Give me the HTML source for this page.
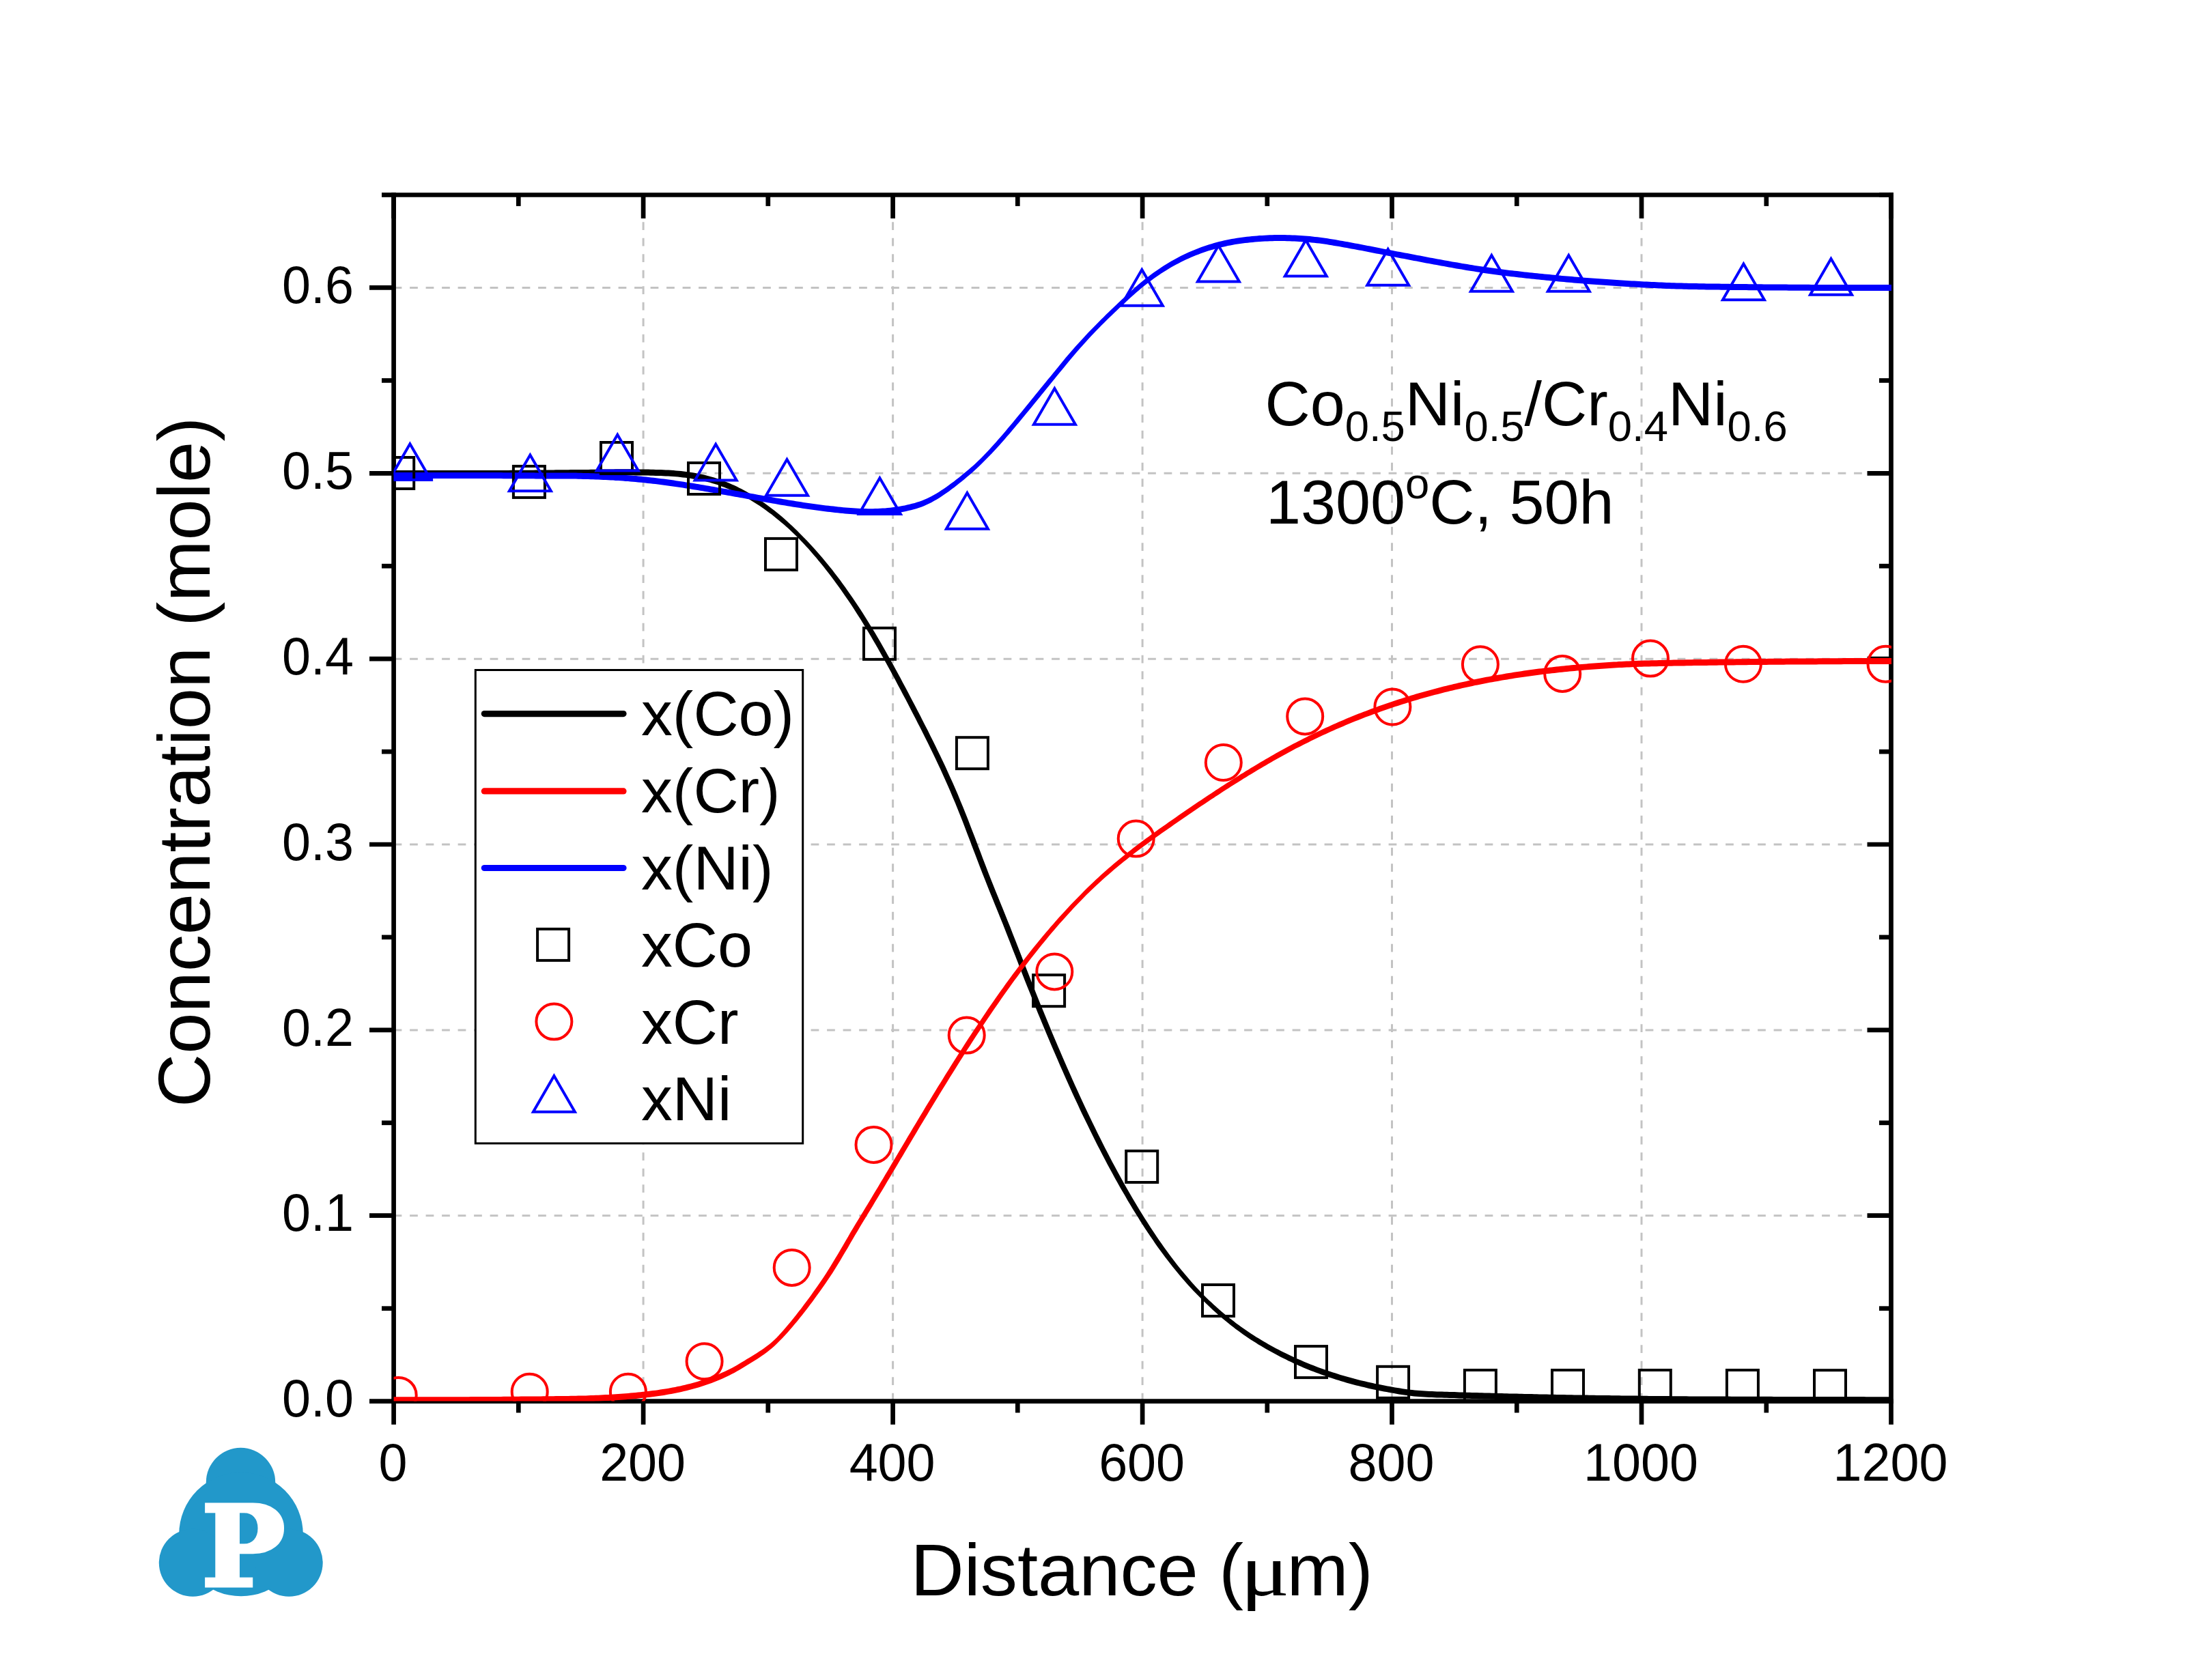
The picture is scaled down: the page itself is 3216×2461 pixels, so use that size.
<!DOCTYPE html><html><head><meta charset="utf-8"><title>Co0.5Ni0.5/Cr0.4Ni0.6 diffusion couple</title>
<style>html,body{margin:0;padding:0;background:#fff}svg{display:block}</style></head><body>
<svg width="3216" height="2461" viewBox="0 0 3216 2461">
<rect width="3216" height="2461" fill="#fff"/>
<defs><clipPath id="pc"><rect x="576.6" y="285.5" width="2193.4" height="1767.1"/></clipPath></defs>
<g stroke="#c3c3c3" stroke-width="3" stroke-dasharray="11.75 11.75" fill="none">
<line x1="576.6" y1="1780.7" x2="2769.5" y2="1780.7"/>
<line x1="576.6" y1="1508.9" x2="2769.5" y2="1508.9"/>
<line x1="576.6" y1="1237.0" x2="2769.5" y2="1237.0"/>
<line x1="576.6" y1="965.2" x2="2769.5" y2="965.2"/>
<line x1="576.6" y1="693.3" x2="2769.5" y2="693.3"/>
<line x1="576.6" y1="421.4" x2="2769.5" y2="421.4"/>
<line x1="942.1" y1="2052.6" x2="942.1" y2="285.5"/>
<line x1="1307.6" y1="2052.6" x2="1307.6" y2="285.5"/>
<line x1="1673.1" y1="2052.6" x2="1673.1" y2="285.5"/>
<line x1="2038.5" y1="2052.6" x2="2038.5" y2="285.5"/>
<line x1="2404.0" y1="2052.6" x2="2404.0" y2="285.5"/>
</g>
<g stroke="#000" stroke-width="6.7" fill="none">
<line x1="576.6" y1="282.1" x2="576.6" y2="2055.9"/>
<line x1="2769.5" y1="282.1" x2="2769.5" y2="2055.9"/>
<line x1="573.2" y1="285.5" x2="2772.8" y2="285.5"/>
<line x1="573.2" y1="2052.6" x2="2772.8" y2="2052.6"/>
<line x1="541.0" y1="2052.6" x2="576.6" y2="2052.6"/>
<line x1="2734.5" y1="2052.6" x2="2769.5" y2="2052.6"/>
<line x1="559.0" y1="1916.7" x2="576.6" y2="1916.7"/>
<line x1="2752.0" y1="1916.7" x2="2769.5" y2="1916.7"/>
<line x1="541.0" y1="1780.7" x2="576.6" y2="1780.7"/>
<line x1="2734.5" y1="1780.7" x2="2769.5" y2="1780.7"/>
<line x1="559.0" y1="1644.8" x2="576.6" y2="1644.8"/>
<line x1="2752.0" y1="1644.8" x2="2769.5" y2="1644.8"/>
<line x1="541.0" y1="1508.9" x2="576.6" y2="1508.9"/>
<line x1="2734.5" y1="1508.9" x2="2769.5" y2="1508.9"/>
<line x1="559.0" y1="1372.9" x2="576.6" y2="1372.9"/>
<line x1="2752.0" y1="1372.9" x2="2769.5" y2="1372.9"/>
<line x1="541.0" y1="1237.0" x2="576.6" y2="1237.0"/>
<line x1="2734.5" y1="1237.0" x2="2769.5" y2="1237.0"/>
<line x1="559.0" y1="1101.1" x2="576.6" y2="1101.1"/>
<line x1="2752.0" y1="1101.1" x2="2769.5" y2="1101.1"/>
<line x1="541.0" y1="965.2" x2="576.6" y2="965.2"/>
<line x1="2734.5" y1="965.2" x2="2769.5" y2="965.2"/>
<line x1="559.0" y1="829.2" x2="576.6" y2="829.2"/>
<line x1="2752.0" y1="829.2" x2="2769.5" y2="829.2"/>
<line x1="541.0" y1="693.3" x2="576.6" y2="693.3"/>
<line x1="2734.5" y1="693.3" x2="2769.5" y2="693.3"/>
<line x1="559.0" y1="557.4" x2="576.6" y2="557.4"/>
<line x1="2752.0" y1="557.4" x2="2769.5" y2="557.4"/>
<line x1="541.0" y1="421.4" x2="576.6" y2="421.4"/>
<line x1="2734.5" y1="421.4" x2="2769.5" y2="421.4"/>
<line x1="559.0" y1="285.5" x2="576.6" y2="285.5"/>
<line x1="2752.0" y1="285.5" x2="2769.5" y2="285.5"/>
<line x1="576.6" y1="2052.6" x2="576.6" y2="2086.8"/>
<line x1="576.6" y1="285.5" x2="576.6" y2="320.0"/>
<line x1="759.3" y1="2052.6" x2="759.3" y2="2069.5"/>
<line x1="759.3" y1="285.5" x2="759.3" y2="301.9"/>
<line x1="942.1" y1="2052.6" x2="942.1" y2="2086.8"/>
<line x1="942.1" y1="285.5" x2="942.1" y2="320.0"/>
<line x1="1124.8" y1="2052.6" x2="1124.8" y2="2069.5"/>
<line x1="1124.8" y1="285.5" x2="1124.8" y2="301.9"/>
<line x1="1307.6" y1="2052.6" x2="1307.6" y2="2086.8"/>
<line x1="1307.6" y1="285.5" x2="1307.6" y2="320.0"/>
<line x1="1490.3" y1="2052.6" x2="1490.3" y2="2069.5"/>
<line x1="1490.3" y1="285.5" x2="1490.3" y2="301.9"/>
<line x1="1673.1" y1="2052.6" x2="1673.1" y2="2086.8"/>
<line x1="1673.1" y1="285.5" x2="1673.1" y2="320.0"/>
<line x1="1855.8" y1="2052.6" x2="1855.8" y2="2069.5"/>
<line x1="1855.8" y1="285.5" x2="1855.8" y2="301.9"/>
<line x1="2038.5" y1="2052.6" x2="2038.5" y2="2086.8"/>
<line x1="2038.5" y1="285.5" x2="2038.5" y2="320.0"/>
<line x1="2221.3" y1="2052.6" x2="2221.3" y2="2069.5"/>
<line x1="2221.3" y1="285.5" x2="2221.3" y2="301.9"/>
<line x1="2404.0" y1="2052.6" x2="2404.0" y2="2086.8"/>
<line x1="2404.0" y1="285.5" x2="2404.0" y2="320.0"/>
<line x1="2586.8" y1="2052.6" x2="2586.8" y2="2069.5"/>
<line x1="2586.8" y1="285.5" x2="2586.8" y2="301.9"/>
<line x1="2769.5" y1="2052.6" x2="2769.5" y2="2086.8"/>
<line x1="2769.5" y1="285.5" x2="2769.5" y2="320.0"/>
</g>
<g font-family="Liberation Sans, Arial, sans-serif" font-size="75.5" fill="#000">
<text transform="translate(518.0 2075.3) scale(1 1.030)" text-anchor="end">0.0</text>
<text transform="translate(518.0 1803.4) scale(1 1.030)" text-anchor="end">0.1</text>
<text transform="translate(518.0 1531.6) scale(1 1.030)" text-anchor="end">0.2</text>
<text transform="translate(518.0 1259.7) scale(1 1.030)" text-anchor="end">0.3</text>
<text transform="translate(518.0 987.9) scale(1 1.030)" text-anchor="end">0.4</text>
<text transform="translate(518.0 716.0) scale(1 1.030)" text-anchor="end">0.5</text>
<text transform="translate(518.0 444.1) scale(1 1.030)" text-anchor="end">0.6</text>
<text transform="translate(575.6 2169.2) scale(1 1.030)" text-anchor="middle">0</text>
<text transform="translate(941.1 2169.2) scale(1 1.030)" text-anchor="middle">200</text>
<text transform="translate(1306.6 2169.2) scale(1 1.030)" text-anchor="middle">400</text>
<text transform="translate(1672.1 2169.2) scale(1 1.030)" text-anchor="middle">600</text>
<text transform="translate(2037.5 2169.2) scale(1 1.030)" text-anchor="middle">800</text>
<text transform="translate(2403.0 2169.2) scale(1 1.030)" text-anchor="middle">1000</text>
<text transform="translate(2768.5 2169.2) scale(1 1.030)" text-anchor="middle">1200</text>
</g>
<text font-family="Liberation Sans, Arial, sans-serif" font-size="108.3" x="1333.5" y="2336.9">Distance (</text>
<text font-family="Liberation Serif, DejaVu Serif, serif" font-size="108.3" transform="translate(1816.6 2336.9) scale(1.240 1)">μ</text>
<text font-family="Liberation Sans, Arial, sans-serif" font-size="108.3" x="1884.5" y="2336.9">m)</text>
<text font-family="Liberation Sans, Arial, sans-serif" font-size="108.3" text-anchor="middle" transform="translate(306.7 1116.4) rotate(-90)">Concentration (mole)</text>
<g clip-path="url(#pc)" stroke="none">
<path fill="#000" d="M570.6 698.1L576.6 698.1L580.3 698.1L583.9 698.1L587.6 698.1L591.2 698.1L594.9 698.1L598.5 698.1L602.2 698.1L605.8 698.1L609.5 698.1L613.1 698.1L616.8 698.1L620.5 698.1L624.1 698.1L627.8 698.1L631.4 698.1L635.1 698.1L638.7 698.1L642.4 698.1L646.0 698.1L649.7 698.1L653.4 698.1L657.0 698.1L660.7 698.1L664.3 698.1L668.0 698.1L671.6 698.1L675.3 698.1L678.9 698.1L682.6 698.1L686.3 698.0L689.9 698.0L693.6 698.0L697.2 698.0L700.9 698.0L704.5 698.0L708.2 698.0L711.8 698.0L715.5 698.0L719.2 698.0L722.8 697.9L726.5 697.9L730.1 697.9L733.8 697.9L737.4 697.9L741.1 697.9L744.7 697.9L748.4 697.8L752.1 697.8L755.7 697.8L759.4 697.8L763.0 697.8L766.7 697.8L770.3 697.7L774.0 697.7L777.6 697.7L781.3 697.7L785.0 697.6L788.6 697.6L792.3 697.6L795.9 697.5L799.6 697.5L803.2 697.5L806.9 697.4L810.6 697.4L814.2 697.3L817.9 697.3L821.5 697.3L825.2 697.2L828.8 697.2L832.5 697.2L836.1 697.1L839.8 697.1L843.4 697.0L847.1 697.0L850.8 697.0L854.4 696.9L858.1 696.9L861.7 696.9L865.4 696.8L869.1 696.8L872.7 696.7L876.4 696.6L880.0 696.6L883.7 696.5L887.3 696.5L891.0 696.4L894.6 696.4L898.3 696.4L901.9 696.3L905.6 696.3L909.2 696.3L912.8 696.3L916.5 696.3L920.1 696.3L923.8 696.3L927.4 696.3L931.1 696.4L934.7 696.4L938.4 696.5L942.0 696.5L945.7 696.6L949.3 696.6L953.0 696.7L956.6 696.8L960.2 696.9L963.9 697.0L967.5 697.1L971.1 697.2L974.8 697.4L978.4 697.6L982.0 697.8L985.6 698.0L989.2 698.3L992.8 698.6L996.4 699.0L1000.0 699.4L1003.7 699.8L1007.3 700.3L1010.9 700.8L1014.4 701.4L1018.0 702.0L1021.6 702.6L1025.2 703.4L1028.8 704.1L1032.4 705.0L1036.0 705.9L1039.6 706.8L1043.2 707.9L1046.8 709.0L1050.4 710.1L1054.0 711.4L1057.5 712.7L1061.1 714.0L1064.7 715.5L1068.4 717.0L1072.0 718.5L1075.6 720.2L1079.2 721.9L1082.8 723.7L1086.4 725.6L1090.0 727.5L1093.6 729.5L1097.3 731.6L1100.9 733.7L1104.5 735.9L1108.1 738.3L1111.8 740.6L1115.4 743.1L1119.0 745.6L1122.7 748.2L1126.3 750.9L1130.0 753.6L1133.6 756.5L1137.2 759.4L1140.9 762.4L1144.5 765.4L1148.2 768.6L1151.8 771.8L1155.5 775.1L1159.1 778.5L1162.8 782.0L1166.4 785.5L1170.1 789.2L1173.7 792.9L1177.3 796.7L1180.9 800.7L1184.5 804.6L1188.1 808.7L1191.7 812.9L1195.3 817.1L1198.9 821.4L1202.5 825.8L1206.2 830.3L1209.8 834.9L1213.4 839.5L1217.0 844.2L1220.6 849.1L1224.2 854.0L1227.9 858.9L1231.5 864.0L1235.1 869.2L1238.7 874.4L1242.4 879.7L1246.0 885.1L1249.6 890.6L1253.2 896.2L1256.9 901.9L1260.5 907.6L1264.1 913.5L1267.7 919.4L1271.4 925.4L1275.0 931.5L1278.6 937.7L1282.3 944.0L1285.9 950.3L1289.5 956.8L1293.2 963.2L1296.8 969.8L1300.5 976.4L1304.1 983.1L1307.7 989.8L1311.4 996.6L1315.0 1003.4L1318.7 1010.3L1322.3 1017.2L1326.0 1024.1L1329.6 1031.1L1333.3 1038.2L1336.9 1045.2L1340.6 1052.3L1344.2 1059.4L1347.9 1066.6L1351.5 1073.8L1355.1 1081.0L1358.8 1088.3L1362.4 1095.7L1366.1 1103.2L1369.7 1110.8L1373.3 1118.5L1377.0 1126.3L1380.6 1134.2L1384.2 1142.3L1387.9 1150.5L1391.5 1158.8L1395.1 1167.4L1398.8 1176.1L1402.4 1185.0L1406.0 1194.0L1409.7 1203.3L1413.3 1212.7L1416.9 1222.2L1420.6 1231.8L1424.2 1241.4L1427.9 1251.1L1431.6 1260.7L1435.2 1270.2L1438.9 1279.7L1442.6 1289.1L1446.2 1298.3L1449.9 1307.4L1453.6 1316.4L1457.2 1325.4L1460.9 1334.4L1464.5 1343.4L1468.2 1352.5L1471.8 1361.7L1475.4 1370.9L1479.1 1380.3L1482.7 1389.7L1486.4 1399.1L1490.1 1408.6L1493.7 1418.0L1497.4 1427.4L1501.0 1436.7L1504.7 1445.9L1508.4 1455.1L1512.0 1464.3L1515.7 1473.3L1519.3 1482.4L1523.0 1491.3L1526.7 1500.2L1530.3 1509.0L1534.0 1517.8L1537.7 1526.4L1541.3 1535.1L1545.0 1543.6L1548.7 1552.1L1552.3 1560.5L1556.0 1568.8L1559.6 1577.1L1563.3 1585.3L1567.0 1593.4L1570.6 1601.5L1574.3 1609.4L1578.0 1617.3L1581.6 1625.2L1585.3 1632.9L1589.0 1640.6L1592.7 1648.1L1596.3 1655.6L1600.0 1663.1L1603.7 1670.4L1607.3 1677.7L1611.0 1684.8L1614.7 1691.9L1618.4 1699.0L1622.0 1705.9L1625.7 1712.8L1629.4 1719.5L1633.0 1726.2L1636.7 1732.8L1640.4 1739.4L1644.1 1745.8L1647.8 1752.1L1651.4 1758.4L1655.1 1764.6L1658.8 1770.7L1662.5 1776.7L1666.2 1782.6L1669.8 1788.5L1673.5 1794.2L1677.2 1799.9L1680.9 1805.5L1684.6 1810.9L1688.3 1816.3L1691.9 1821.7L1695.6 1826.9L1699.3 1832.0L1703.0 1837.0L1706.7 1842.0L1710.4 1846.8L1714.1 1851.6L1717.8 1856.3L1721.5 1860.8L1725.2 1865.3L1728.9 1869.7L1732.6 1874.0L1736.3 1878.2L1740.0 1882.4L1743.7 1886.4L1747.4 1890.4L1751.1 1894.3L1754.8 1898.1L1758.5 1901.8L1762.2 1905.5L1765.8 1909.1L1769.5 1912.6L1773.1 1916.1L1776.8 1919.4L1780.5 1922.8L1784.1 1926.0L1787.8 1929.2L1791.4 1932.3L1795.1 1935.3L1798.8 1938.3L1802.4 1941.2L1806.1 1944.1L1809.8 1946.9L1813.4 1949.6L1817.1 1952.3L1820.8 1954.9L1824.5 1957.4L1828.1 1959.9L1831.8 1962.4L1835.5 1964.8L1839.2 1967.1L1842.8 1969.4L1846.5 1971.6L1850.2 1973.8L1853.9 1976.0L1857.5 1978.1L1861.2 1980.1L1864.9 1982.1L1868.6 1984.1L1872.2 1986.1L1875.9 1987.9L1879.6 1989.8L1883.3 1991.6L1886.9 1993.4L1890.6 1995.1L1894.3 1996.9L1898.0 1998.5L1901.7 2000.2L1905.3 2001.8L1909.0 2003.4L1912.7 2004.9L1916.4 2006.4L1920.0 2007.9L1923.7 2009.3L1927.4 2010.8L1931.1 2012.1L1934.8 2013.5L1938.4 2014.8L1942.1 2016.1L1945.8 2017.4L1949.5 2018.6L1953.2 2019.8L1956.8 2021.0L1960.5 2022.1L1964.2 2023.3L1967.9 2024.3L1971.6 2025.4L1975.2 2026.4L1978.9 2027.5L1982.6 2028.4L1986.3 2029.4L1990.0 2030.3L1993.6 2031.3L1997.3 2032.1L2001.0 2033.0L2004.7 2033.9L2008.4 2034.7L2012.0 2035.5L2015.7 2036.2L2019.4 2037.0L2023.1 2037.7L2026.7 2038.4L2030.4 2039.1L2034.1 2039.8L2037.8 2040.5L2041.4 2041.1L2045.1 2041.8L2048.8 2042.4L2052.5 2043.0L2056.2 2043.6L2059.9 2044.1L2063.6 2044.6L2067.3 2045.0L2071.0 2045.4L2074.7 2045.7L2078.4 2046.0L2082.1 2046.3L2085.8 2046.5L2089.5 2046.7L2093.1 2046.9L2096.8 2047.1L2100.5 2047.2L2104.2 2047.4L2107.8 2047.5L2111.5 2047.6L2115.2 2047.7L2118.8 2047.8L2122.5 2047.9L2126.1 2048.0L2129.8 2048.1L2133.4 2048.2L2137.1 2048.4L2140.7 2048.5L2144.4 2048.6L2148.0 2048.7L2151.7 2048.8L2155.4 2048.9L2159.0 2049.0L2162.7 2049.1L2166.3 2049.2L2170.0 2049.3L2173.6 2049.4L2177.3 2049.5L2181.0 2049.6L2184.6 2049.7L2188.3 2049.8L2191.9 2049.9L2195.6 2050.0L2199.2 2050.1L2202.9 2050.2L2206.5 2050.3L2210.2 2050.4L2213.9 2050.4L2217.5 2050.5L2221.2 2050.6L2224.8 2050.7L2228.5 2050.8L2232.1 2050.9L2235.8 2051.0L2239.4 2051.1L2243.1 2051.1L2246.8 2051.2L2250.4 2051.3L2254.1 2051.4L2257.7 2051.5L2261.4 2051.5L2265.0 2051.6L2268.7 2051.7L2272.4 2051.7L2276.0 2051.8L2279.7 2051.9L2283.3 2052.0L2287.0 2052.0L2290.6 2052.1L2294.3 2052.2L2297.9 2052.2L2301.6 2052.3L2305.3 2052.3L2308.9 2052.4L2312.6 2052.5L2316.2 2052.5L2319.9 2052.6L2323.5 2052.6L2327.2 2052.7L2330.9 2052.8L2334.5 2052.8L2338.2 2052.9L2341.8 2052.9L2345.5 2053.0L2349.1 2053.0L2352.8 2053.1L2356.4 2053.1L2360.1 2053.2L2363.8 2053.2L2367.4 2053.3L2371.1 2053.3L2374.7 2053.4L2378.4 2053.4L2382.0 2053.5L2385.7 2053.5L2389.3 2053.6L2393.0 2053.6L2396.7 2053.6L2400.3 2053.7L2404.0 2053.7L2407.6 2053.8L2411.3 2053.8L2414.9 2053.9L2418.6 2053.9L2422.2 2053.9L2425.9 2054.0L2429.6 2054.0L2433.2 2054.0L2436.9 2054.1L2440.5 2054.1L2444.2 2054.1L2447.8 2054.2L2451.5 2054.2L2455.1 2054.2L2458.8 2054.3L2462.5 2054.3L2466.1 2054.3L2469.8 2054.3L2473.4 2054.4L2477.1 2054.4L2480.7 2054.4L2484.4 2054.4L2488.1 2054.4L2491.7 2054.5L2495.4 2054.5L2499.0 2054.5L2502.7 2054.5L2506.3 2054.5L2510.0 2054.5L2513.6 2054.6L2517.3 2054.6L2521.0 2054.6L2524.6 2054.6L2528.3 2054.6L2531.9 2054.6L2535.6 2054.7L2539.2 2054.7L2542.9 2054.7L2546.5 2054.7L2550.2 2054.7L2553.8 2054.7L2557.5 2054.7L2561.2 2054.7L2564.8 2054.8L2568.5 2054.8L2572.1 2054.8L2575.8 2054.8L2579.4 2054.8L2583.1 2054.8L2586.7 2054.8L2590.4 2054.8L2594.1 2054.8L2597.7 2054.9L2601.4 2054.9L2605.0 2054.9L2608.7 2054.9L2612.3 2054.9L2616.0 2054.9L2619.6 2054.9L2623.3 2054.9L2627.0 2054.9L2630.6 2054.9L2634.3 2055.0L2637.9 2055.0L2641.6 2055.0L2645.2 2055.0L2648.9 2055.0L2652.5 2055.0L2656.2 2055.0L2659.8 2055.0L2663.5 2055.0L2667.2 2055.0L2670.8 2055.0L2674.5 2055.0L2678.1 2055.1L2681.8 2055.1L2685.4 2055.1L2689.1 2055.1L2692.7 2055.1L2696.4 2055.1L2700.0 2055.1L2703.7 2055.1L2707.4 2055.1L2711.0 2055.1L2714.7 2055.1L2718.3 2055.1L2722.0 2055.1L2725.6 2055.1L2729.3 2055.1L2732.9 2055.2L2736.6 2055.2L2740.3 2055.2L2743.9 2055.2L2747.6 2055.2L2751.2 2055.2L2754.9 2055.2L2758.5 2055.2L2762.2 2055.2L2765.8 2055.2L2769.5 2055.2L2775.5 2055.2L2775.5 2046.2L2769.5 2046.2L2765.8 2046.2L2762.2 2046.2L2758.5 2046.2L2754.9 2046.2L2751.2 2046.2L2747.6 2046.2L2743.9 2046.2L2740.3 2046.2L2736.6 2046.2L2733.0 2046.2L2729.3 2046.1L2725.6 2046.1L2722.0 2046.1L2718.3 2046.1L2714.7 2046.1L2711.0 2046.1L2707.4 2046.1L2703.7 2046.1L2700.1 2046.1L2696.4 2046.1L2692.8 2046.1L2689.1 2046.1L2685.4 2046.1L2681.8 2046.1L2678.1 2046.1L2674.5 2046.0L2670.8 2046.0L2667.2 2046.0L2663.5 2046.0L2659.9 2046.0L2656.2 2046.0L2652.6 2046.0L2648.9 2046.0L2645.2 2046.0L2641.6 2046.0L2637.9 2046.0L2634.3 2046.0L2630.6 2045.9L2627.0 2045.9L2623.3 2045.9L2619.7 2045.9L2616.0 2045.9L2612.4 2045.9L2608.7 2045.9L2605.0 2045.9L2601.4 2045.9L2597.7 2045.9L2594.1 2045.8L2590.4 2045.8L2586.8 2045.8L2583.1 2045.8L2579.5 2045.8L2575.8 2045.8L2572.2 2045.8L2568.5 2045.8L2564.8 2045.8L2561.2 2045.7L2557.5 2045.7L2553.9 2045.7L2550.2 2045.7L2546.6 2045.7L2542.9 2045.7L2539.3 2045.7L2535.6 2045.7L2532.0 2045.6L2528.3 2045.6L2524.6 2045.6L2521.0 2045.6L2517.3 2045.6L2513.7 2045.6L2510.0 2045.5L2506.4 2045.5L2502.7 2045.5L2499.1 2045.5L2495.4 2045.5L2491.8 2045.5L2488.1 2045.4L2484.4 2045.4L2480.8 2045.4L2477.1 2045.4L2473.5 2045.4L2469.8 2045.3L2466.2 2045.3L2462.5 2045.3L2458.9 2045.3L2455.2 2045.2L2451.6 2045.2L2447.9 2045.2L2444.3 2045.1L2440.6 2045.1L2437.0 2045.1L2433.3 2045.0L2429.6 2045.0L2426.0 2045.0L2422.3 2044.9L2418.7 2044.9L2415.0 2044.9L2411.4 2044.8L2407.7 2044.8L2404.1 2044.7L2400.4 2044.7L2396.8 2044.6L2393.1 2044.6L2389.5 2044.6L2385.8 2044.5L2382.1 2044.5L2378.5 2044.4L2374.8 2044.4L2371.2 2044.3L2367.5 2044.3L2363.9 2044.2L2360.2 2044.2L2356.6 2044.1L2352.9 2044.1L2349.3 2044.0L2345.6 2044.0L2341.9 2043.9L2338.3 2043.9L2334.6 2043.8L2331.0 2043.8L2327.3 2043.7L2323.7 2043.6L2320.0 2043.6L2316.4 2043.5L2312.7 2043.5L2309.1 2043.4L2305.4 2043.4L2301.8 2043.3L2298.1 2043.2L2294.5 2043.2L2290.8 2043.1L2287.1 2043.0L2283.5 2043.0L2279.8 2042.9L2276.2 2042.8L2272.5 2042.8L2268.9 2042.7L2265.2 2042.6L2261.6 2042.5L2257.9 2042.5L2254.3 2042.4L2250.6 2042.3L2247.0 2042.2L2243.3 2042.1L2239.7 2042.1L2236.0 2042.0L2232.3 2041.9L2228.7 2041.8L2225.0 2041.7L2221.4 2041.6L2217.7 2041.5L2214.1 2041.5L2210.4 2041.4L2206.8 2041.3L2203.1 2041.2L2199.5 2041.1L2195.8 2041.0L2192.2 2040.9L2188.5 2040.8L2184.8 2040.7L2181.2 2040.6L2177.5 2040.5L2173.9 2040.4L2170.2 2040.3L2166.6 2040.2L2162.9 2040.1L2159.3 2040.0L2155.6 2039.9L2152.0 2039.8L2148.3 2039.7L2144.7 2039.6L2141.0 2039.5L2137.4 2039.4L2133.7 2039.3L2130.1 2039.1L2126.4 2039.0L2122.7 2038.9L2119.1 2038.8L2115.4 2038.7L2111.8 2038.6L2108.1 2038.5L2104.5 2038.4L2100.8 2038.2L2097.2 2038.1L2093.6 2037.9L2089.9 2037.8L2086.3 2037.6L2082.7 2037.3L2079.1 2037.1L2075.5 2036.8L2071.9 2036.4L2068.2 2036.1L2064.6 2035.7L2061.0 2035.2L2057.4 2034.7L2053.8 2034.2L2050.2 2033.6L2046.6 2033.0L2043.0 2032.4L2039.3 2031.8L2035.7 2031.1L2032.0 2030.4L2028.4 2029.8L2024.8 2029.1L2021.1 2028.3L2017.5 2027.6L2013.9 2026.9L2010.2 2026.1L2006.6 2025.3L2003.0 2024.5L1999.3 2023.6L1995.7 2022.8L1992.1 2021.9L1988.4 2021.0L1984.8 2020.0L1981.2 2019.1L1977.6 2018.1L1973.9 2017.1L1970.3 2016.0L1966.7 2015.0L1963.0 2013.9L1959.4 2012.8L1955.8 2011.6L1952.2 2010.5L1948.5 2009.3L1944.9 2008.1L1941.3 2006.8L1937.6 2005.5L1934.0 2004.2L1930.4 2002.9L1926.7 2001.5L1923.1 2000.1L1919.5 1998.7L1915.9 1997.2L1912.2 1995.7L1908.6 1994.2L1905.0 1992.6L1901.3 1991.0L1897.7 1989.4L1894.1 1987.8L1890.4 1986.1L1886.8 1984.3L1883.2 1982.6L1879.5 1980.8L1875.9 1978.9L1872.3 1977.1L1868.6 1975.2L1865.0 1973.2L1861.4 1971.2L1857.7 1969.2L1854.1 1967.1L1850.5 1965.0L1846.8 1962.8L1843.2 1960.6L1839.6 1958.4L1835.9 1956.1L1832.3 1953.7L1828.6 1951.3L1825.0 1948.8L1821.4 1946.3L1817.7 1943.7L1814.1 1941.1L1810.4 1938.4L1806.8 1935.6L1803.2 1932.8L1799.5 1929.9L1795.9 1927.0L1792.2 1923.9L1788.6 1920.9L1784.9 1917.7L1781.3 1914.5L1777.6 1911.2L1774.0 1907.8L1770.3 1904.4L1766.7 1900.9L1763.0 1897.3L1759.4 1893.6L1755.8 1889.8L1752.2 1885.9L1748.6 1881.9L1745.0 1877.9L1741.4 1873.8L1737.8 1869.6L1734.2 1865.3L1730.6 1860.9L1726.9 1856.4L1723.3 1851.9L1719.7 1847.2L1716.1 1842.5L1712.5 1837.7L1708.9 1832.7L1705.2 1827.7L1701.6 1822.6L1698.0 1817.4L1694.4 1812.2L1690.8 1806.8L1687.1 1801.3L1683.5 1795.8L1679.9 1790.1L1676.3 1784.4L1672.6 1778.6L1669.0 1772.7L1665.4 1766.7L1661.7 1760.6L1658.1 1754.5L1654.5 1748.2L1650.9 1741.9L1647.2 1735.5L1643.6 1729.0L1640.0 1722.4L1636.3 1715.8L1632.7 1709.0L1629.0 1702.2L1625.4 1695.3L1621.8 1688.3L1618.1 1681.2L1614.5 1674.0L1610.9 1666.8L1607.2 1659.5L1603.6 1652.1L1599.9 1644.6L1596.3 1637.0L1592.7 1629.4L1589.0 1621.7L1585.4 1613.9L1581.7 1606.0L1578.1 1598.1L1574.4 1590.0L1570.8 1581.9L1567.2 1573.8L1563.5 1565.5L1559.9 1557.2L1556.2 1548.8L1552.6 1540.3L1548.9 1531.8L1545.3 1523.2L1541.6 1514.5L1538.0 1505.8L1534.4 1497.0L1530.7 1488.1L1527.1 1479.2L1523.4 1470.2L1519.8 1461.2L1516.1 1452.0L1512.5 1442.9L1508.8 1433.6L1505.2 1424.3L1501.5 1415.0L1497.9 1405.5L1494.2 1396.1L1490.6 1386.7L1486.9 1377.3L1483.2 1367.9L1479.6 1358.6L1475.9 1349.4L1472.2 1340.2L1468.6 1331.2L1464.9 1322.2L1461.3 1313.3L1457.6 1304.3L1454.0 1295.2L1450.3 1286.0L1446.7 1276.7L1443.1 1267.2L1439.4 1257.7L1435.8 1248.1L1432.1 1238.4L1428.5 1228.8L1424.8 1219.2L1421.1 1209.7L1417.5 1200.2L1413.8 1191.0L1410.1 1181.8L1406.4 1172.9L1402.8 1164.1L1399.1 1155.6L1395.4 1147.1L1391.7 1138.9L1388.0 1130.8L1384.4 1122.8L1380.7 1115.0L1377.0 1107.3L1373.3 1099.7L1369.7 1092.2L1366.0 1084.7L1362.3 1077.4L1358.7 1070.1L1355.0 1062.9L1351.3 1055.8L1347.7 1048.6L1344.0 1041.6L1340.4 1034.5L1336.7 1027.5L1333.0 1020.4L1329.4 1013.5L1325.7 1006.6L1322.0 999.7L1318.4 992.8L1314.7 986.0L1311.0 979.3L1307.4 972.6L1303.7 966.0L1300.0 959.4L1296.4 952.9L1292.7 946.5L1289.0 940.1L1285.3 933.8L1281.7 927.6L1278.0 921.5L1274.3 915.4L1270.6 909.4L1266.9 903.6L1263.3 897.8L1259.6 892.1L1255.9 886.5L1252.2 881.0L1248.5 875.5L1244.8 870.2L1241.1 864.9L1237.5 859.7L1233.8 854.7L1230.1 849.6L1226.4 844.7L1222.7 839.9L1219.0 835.1L1215.3 830.5L1211.6 825.9L1207.9 821.4L1204.2 817.0L1200.5 812.7L1196.8 808.4L1193.1 804.3L1189.4 800.2L1185.7 796.2L1182.0 792.3L1178.3 788.4L1174.6 784.7L1170.9 781.0L1167.3 777.3L1163.6 773.8L1160.0 770.3L1156.3 766.9L1152.6 763.5L1149.0 760.3L1145.3 757.1L1141.7 754.0L1138.0 751.0L1134.3 748.0L1130.6 745.2L1127.0 742.4L1123.3 739.7L1119.6 737.0L1115.9 734.5L1112.3 732.0L1108.6 729.5L1104.9 727.2L1101.2 724.9L1097.5 722.7L1093.8 720.6L1090.1 718.6L1086.5 716.6L1082.8 714.7L1079.1 712.8L1075.4 711.1L1071.7 709.4L1067.9 707.8L1064.2 706.2L1060.5 704.8L1056.8 703.4L1053.1 702.1L1049.4 700.8L1045.7 699.6L1041.9 698.5L1038.2 697.5L1034.5 696.5L1030.8 695.6L1027.1 694.7L1023.3 694.0L1019.6 693.3L1015.9 692.6L1012.2 692.0L1008.5 691.4L1004.8 690.9L1001.1 690.5L997.4 690.1L993.7 689.7L990.0 689.4L986.3 689.1L982.6 688.8L978.9 688.6L975.2 688.4L971.5 688.2L967.8 688.1L964.2 688.0L960.5 687.9L956.8 687.8L953.1 687.7L949.5 687.6L945.8 687.6L942.1 687.5L938.5 687.5L934.8 687.4L931.2 687.4L927.5 687.3L923.8 687.3L920.2 687.3L916.5 687.3L912.8 687.3L909.2 687.3L905.5 687.3L901.8 687.3L898.2 687.4L894.5 687.4L890.9 687.4L887.2 687.5L883.5 687.5L879.9 687.6L876.2 687.6L872.6 687.7L868.9 687.8L865.3 687.8L861.6 687.9L858.0 687.9L854.3 687.9L850.7 688.0L847.0 688.0L843.4 688.0L839.7 688.1L836.0 688.1L832.4 688.2L828.7 688.2L825.1 688.2L821.4 688.3L817.8 688.3L814.1 688.3L810.5 688.4L806.8 688.4L803.2 688.5L799.5 688.5L795.8 688.5L792.2 688.6L788.5 688.6L784.9 688.6L781.2 688.7L777.6 688.7L773.9 688.7L770.3 688.7L766.6 688.8L763.0 688.8L759.3 688.8L755.7 688.8L752.0 688.8L748.4 688.8L744.7 688.9L741.0 688.9L737.4 688.9L733.7 688.9L730.1 688.9L726.4 688.9L722.8 688.9L719.1 689.0L715.5 689.0L711.8 689.0L708.2 689.0L704.5 689.0L700.9 689.0L697.2 689.0L693.5 689.0L689.9 689.0L686.2 689.0L682.6 689.1L678.9 689.1L675.3 689.1L671.6 689.1L668.0 689.1L664.3 689.1L660.7 689.1L657.0 689.1L653.4 689.1L649.7 689.1L646.0 689.1L642.4 689.1L638.7 689.1L635.1 689.1L631.4 689.1L627.8 689.1L624.1 689.1L620.5 689.1L616.8 689.1L613.1 689.1L609.5 689.1L605.8 689.1L602.2 689.1L598.5 689.1L594.9 689.1L591.2 689.1L587.6 689.1L583.9 689.1L580.3 689.1L576.6 689.1L570.6 689.1Z"/>
<path fill="#f00" d="M570.6 2055.2L576.6 2055.2L580.3 2055.2L583.9 2055.2L587.6 2055.2L591.2 2055.2L594.9 2055.2L598.5 2055.2L602.2 2055.2L605.8 2055.2L609.5 2055.2L613.1 2055.2L616.8 2055.2L620.5 2055.2L624.1 2055.2L627.8 2055.2L631.4 2055.2L635.1 2055.2L638.7 2055.2L642.4 2055.2L646.0 2055.2L649.7 2055.2L653.4 2055.2L657.0 2055.2L660.7 2055.2L664.3 2055.2L668.0 2055.2L671.6 2055.2L675.3 2055.2L678.9 2055.2L682.6 2055.2L686.3 2055.2L689.9 2055.1L693.6 2055.1L697.2 2055.1L700.9 2055.1L704.5 2055.1L708.2 2055.1L711.9 2055.0L715.5 2055.0L719.2 2055.0L722.8 2054.9L726.5 2054.9L730.1 2054.9L733.8 2054.9L737.4 2054.8L741.1 2054.8L744.8 2054.8L748.4 2054.7L752.1 2054.7L755.7 2054.7L759.4 2054.7L763.0 2054.6L766.7 2054.6L770.3 2054.6L774.0 2054.5L777.7 2054.5L781.3 2054.5L785.0 2054.4L788.6 2054.4L792.3 2054.4L795.9 2054.3L799.6 2054.3L803.2 2054.3L806.9 2054.2L810.6 2054.2L814.2 2054.1L817.9 2054.1L821.5 2054.0L825.2 2054.0L828.9 2053.9L832.5 2053.9L836.2 2053.8L839.8 2053.8L843.5 2053.7L847.1 2053.6L850.8 2053.6L854.5 2053.5L858.2 2053.4L861.8 2053.3L865.5 2053.1L869.2 2053.0L872.8 2052.8L876.5 2052.7L880.2 2052.5L883.8 2052.3L887.5 2052.1L891.2 2051.9L894.8 2051.7L898.5 2051.5L902.2 2051.2L905.8 2051.0L909.5 2050.7L913.2 2050.5L916.9 2050.2L920.5 2049.8L924.2 2049.5L927.9 2049.2L931.5 2048.9L935.2 2048.5L938.9 2048.1L942.6 2047.7L946.2 2047.3L949.9 2046.9L953.6 2046.5L957.3 2046.0L961.0 2045.5L964.6 2045.0L968.3 2044.4L972.0 2043.9L975.7 2043.3L979.4 2042.6L983.1 2042.0L986.8 2041.3L990.5 2040.5L994.2 2039.8L997.9 2039.0L1001.5 2038.1L1005.2 2037.2L1008.9 2036.3L1012.6 2035.3L1016.3 2034.3L1020.0 2033.3L1023.7 2032.2L1027.4 2031.0L1031.1 2029.8L1034.8 2028.6L1038.5 2027.3L1042.2 2025.9L1045.9 2024.5L1049.6 2023.1L1053.3 2021.5L1057.0 2019.9L1060.7 2018.3L1064.4 2016.5L1068.1 2014.7L1071.8 2012.8L1075.5 2010.9L1079.2 2008.8L1082.9 2006.7L1086.6 2004.4L1090.3 2002.2L1093.9 1999.9L1097.6 1997.7L1101.2 1995.5L1104.9 1993.2L1108.6 1990.9L1112.3 1988.5L1115.9 1986.0L1119.6 1983.4L1123.3 1980.7L1127.0 1977.8L1130.7 1974.7L1134.4 1971.4L1138.0 1968.0L1141.7 1964.3L1145.5 1960.5L1149.2 1956.5L1152.9 1952.4L1156.6 1948.3L1160.3 1944.0L1164.0 1939.6L1167.7 1935.2L1171.4 1930.6L1175.1 1926.0L1178.8 1921.3L1182.5 1916.5L1186.2 1911.6L1189.9 1906.7L1193.6 1901.6L1197.2 1896.6L1200.9 1891.4L1204.6 1886.2L1208.3 1880.9L1212.0 1875.6L1215.7 1870.1L1219.4 1864.4L1223.1 1858.5L1226.8 1852.6L1230.5 1846.5L1234.1 1840.3L1237.8 1834.1L1241.5 1827.9L1245.1 1821.6L1248.8 1815.3L1252.4 1809.1L1256.1 1802.9L1259.7 1796.7L1263.3 1790.7L1267.0 1784.7L1270.6 1778.7L1274.3 1772.7L1278.0 1766.7L1281.6 1760.6L1285.3 1754.6L1288.9 1748.5L1292.6 1742.4L1296.3 1736.2L1299.9 1730.1L1303.6 1724.0L1307.2 1717.8L1310.9 1711.7L1314.6 1705.5L1318.2 1699.3L1321.9 1693.2L1325.5 1687.0L1329.2 1680.8L1332.8 1674.7L1336.5 1668.5L1340.1 1662.4L1343.8 1656.3L1347.4 1650.1L1351.1 1644.0L1354.7 1637.9L1358.4 1631.9L1362.0 1625.8L1365.7 1619.8L1369.3 1613.8L1373.0 1607.8L1376.6 1601.8L1380.3 1595.8L1383.9 1589.9L1387.6 1584.0L1391.2 1578.1L1394.9 1572.2L1398.5 1566.4L1402.2 1560.6L1405.8 1554.8L1409.5 1549.0L1413.1 1543.3L1416.7 1537.6L1420.4 1531.9L1424.0 1526.3L1427.7 1520.6L1431.3 1515.1L1435.0 1509.5L1438.6 1504.0L1442.2 1498.5L1445.9 1493.1L1449.5 1487.7L1453.2 1482.3L1456.8 1477.0L1460.5 1471.7L1464.1 1466.4L1467.7 1461.2L1471.4 1456.1L1475.0 1450.9L1478.6 1445.9L1482.3 1440.8L1485.9 1435.8L1489.6 1430.9L1493.2 1426.0L1496.8 1421.1L1500.5 1416.3L1504.1 1411.5L1507.7 1406.8L1511.4 1402.1L1515.0 1397.5L1518.6 1392.9L1522.3 1388.3L1525.9 1383.8L1529.5 1379.4L1533.2 1375.0L1536.8 1370.6L1540.4 1366.3L1544.1 1362.0L1547.7 1357.8L1551.3 1353.6L1555.0 1349.5L1558.6 1345.4L1562.2 1341.4L1565.8 1337.4L1569.5 1333.5L1573.1 1329.6L1576.7 1325.7L1580.3 1321.9L1584.0 1318.2L1587.6 1314.5L1591.2 1310.8L1594.9 1307.2L1598.5 1303.7L1602.2 1300.2L1605.9 1296.8L1609.5 1293.4L1613.2 1290.1L1616.8 1286.8L1620.5 1283.6L1624.1 1280.4L1627.8 1277.2L1631.4 1274.1L1635.1 1271.1L1638.7 1268.0L1642.4 1265.0L1646.0 1262.1L1649.7 1259.2L1653.3 1256.3L1657.0 1253.4L1660.6 1250.6L1664.3 1247.8L1667.9 1245.0L1671.6 1242.3L1675.2 1239.6L1678.9 1236.9L1682.5 1234.2L1686.2 1231.5L1689.8 1228.9L1693.5 1226.3L1697.1 1223.7L1700.8 1221.1L1704.4 1218.5L1708.1 1216.0L1711.7 1213.4L1715.4 1210.9L1719.0 1208.3L1722.7 1205.8L1726.3 1203.3L1730.0 1200.7L1733.6 1198.2L1737.3 1195.7L1740.9 1193.2L1744.6 1190.7L1748.2 1188.2L1751.9 1185.8L1755.5 1183.3L1759.2 1180.8L1762.8 1178.4L1766.5 1175.9L1770.2 1173.5L1773.8 1171.1L1777.5 1168.7L1781.1 1166.3L1784.8 1163.9L1788.4 1161.5L1792.1 1159.1L1795.7 1156.8L1799.4 1154.4L1803.0 1152.1L1806.7 1149.8L1810.3 1147.5L1814.0 1145.2L1817.6 1142.9L1821.3 1140.6L1824.9 1138.4L1828.6 1136.1L1832.2 1133.9L1835.9 1131.7L1839.5 1129.5L1843.2 1127.3L1846.8 1125.2L1850.5 1123.0L1854.1 1120.9L1857.7 1118.8L1861.4 1116.7L1865.0 1114.6L1868.7 1112.5L1872.3 1110.5L1876.0 1108.4L1879.6 1106.4L1883.3 1104.4L1886.9 1102.5L1890.6 1100.5L1894.2 1098.6L1897.8 1096.6L1901.5 1094.7L1905.1 1092.9L1908.8 1091.0L1912.4 1089.2L1916.1 1087.4L1919.7 1085.6L1923.4 1083.8L1927.0 1082.0L1930.6 1080.3L1934.3 1078.5L1937.9 1076.8L1941.6 1075.2L1945.2 1073.5L1948.9 1071.8L1952.5 1070.2L1956.1 1068.6L1959.8 1067.0L1963.4 1065.4L1967.1 1063.9L1970.7 1062.3L1974.3 1060.8L1978.0 1059.3L1981.6 1057.8L1985.3 1056.3L1988.9 1054.9L1992.6 1053.4L1996.2 1052.0L1999.8 1050.6L2003.5 1049.2L2007.1 1047.9L2010.8 1046.5L2014.4 1045.2L2018.0 1043.9L2021.7 1042.5L2025.3 1041.3L2029.0 1040.0L2032.6 1038.7L2036.2 1037.5L2039.9 1036.3L2043.5 1035.1L2047.2 1033.9L2050.8 1032.7L2054.5 1031.5L2058.1 1030.4L2061.7 1029.3L2065.4 1028.2L2069.0 1027.1L2072.7 1026.0L2076.3 1024.9L2079.9 1023.8L2083.6 1022.8L2087.2 1021.8L2090.9 1020.8L2094.5 1019.8L2098.1 1018.8L2101.8 1017.8L2105.4 1016.9L2109.1 1015.9L2112.7 1015.0L2116.3 1014.1L2120.0 1013.2L2123.6 1012.3L2127.3 1011.4L2130.9 1010.6L2134.5 1009.7L2138.2 1008.9L2141.8 1008.1L2145.5 1007.2L2149.1 1006.4L2152.8 1005.7L2156.4 1004.9L2160.0 1004.1L2163.7 1003.4L2167.3 1002.7L2171.0 1001.9L2174.6 1001.2L2178.2 1000.5L2181.9 999.8L2185.5 999.2L2189.2 998.5L2192.8 997.9L2196.5 997.2L2200.1 996.6L2203.7 996.0L2207.4 995.4L2211.0 994.8L2214.7 994.2L2218.3 993.6L2221.9 993.1L2225.6 992.5L2229.2 992.0L2232.9 991.5L2236.5 990.9L2240.2 990.4L2243.8 989.9L2247.4 989.4L2251.1 989.0L2254.7 988.5L2258.4 988.0L2262.0 987.6L2265.7 987.1L2269.3 986.7L2273.0 986.3L2276.6 985.9L2280.2 985.5L2283.9 985.1L2287.5 984.7L2291.2 984.3L2294.8 984.0L2298.5 983.6L2302.1 983.3L2305.7 982.9L2309.4 982.6L2313.0 982.3L2316.7 981.9L2320.3 981.6L2324.0 981.3L2327.6 981.0L2331.3 980.8L2334.9 980.5L2338.6 980.2L2342.2 979.9L2345.8 979.7L2349.5 979.4L2353.1 979.2L2356.8 979.0L2360.4 978.8L2364.1 978.5L2367.7 978.3L2371.4 978.1L2375.0 977.9L2378.7 977.7L2382.3 977.5L2385.9 977.4L2389.6 977.2L2393.2 977.1L2396.9 976.9L2400.5 976.8L2404.1 976.7L2407.8 976.6L2411.4 976.5L2415.1 976.4L2418.7 976.3L2422.4 976.2L2426.1 976.2L2429.7 976.1L2433.4 976.0L2437.0 975.9L2440.7 975.8L2444.3 975.8L2448.0 975.7L2451.6 975.6L2455.3 975.6L2458.9 975.5L2462.6 975.4L2466.2 975.4L2469.9 975.3L2473.5 975.2L2477.2 975.2L2480.8 975.1L2484.5 975.1L2488.1 975.0L2491.8 975.0L2495.4 974.9L2499.1 974.9L2502.8 974.8L2506.4 974.8L2510.1 974.7L2513.7 974.7L2517.4 974.6L2521.0 974.6L2524.7 974.6L2528.3 974.5L2532.0 974.5L2535.6 974.4L2539.3 974.4L2543.0 974.3L2546.6 974.3L2550.3 974.3L2553.9 974.2L2557.6 974.2L2561.2 974.1L2564.9 974.1L2568.5 974.1L2572.2 974.0L2575.8 974.0L2579.5 973.9L2583.1 973.9L2586.8 973.9L2590.5 973.8L2594.1 973.8L2597.8 973.8L2601.4 973.7L2605.1 973.7L2608.7 973.7L2612.4 973.7L2616.0 973.6L2619.7 973.6L2623.3 973.6L2627.0 973.6L2630.6 973.5L2634.3 973.5L2638.0 973.5L2641.6 973.5L2645.3 973.4L2648.9 973.4L2652.6 973.4L2656.2 973.4L2659.9 973.4L2663.5 973.3L2667.2 973.3L2670.8 973.3L2674.5 973.3L2678.2 973.3L2681.8 973.2L2685.5 973.2L2689.1 973.2L2692.8 973.2L2696.4 973.2L2700.1 973.1L2703.7 973.1L2707.4 973.1L2711.0 973.1L2714.7 973.1L2718.4 973.1L2722.0 973.0L2725.7 973.0L2729.3 973.0L2733.0 973.0L2736.6 973.0L2740.3 973.0L2743.9 973.0L2747.6 973.0L2751.2 973.0L2754.9 972.9L2758.5 972.9L2762.2 972.9L2765.9 972.9L2769.5 972.9L2775.5 972.9L2775.5 963.9L2769.5 963.9L2765.8 963.9L2762.2 963.9L2758.5 963.9L2754.9 963.9L2751.2 964.0L2747.6 964.0L2743.9 964.0L2740.2 964.0L2736.6 964.0L2732.9 964.0L2729.3 964.0L2725.6 964.0L2722.0 964.0L2718.3 964.1L2714.7 964.1L2711.0 964.1L2707.3 964.1L2703.7 964.1L2700.0 964.1L2696.4 964.2L2692.7 964.2L2689.1 964.2L2685.4 964.2L2681.8 964.2L2678.1 964.3L2674.5 964.3L2670.8 964.3L2667.1 964.3L2663.5 964.3L2659.8 964.4L2656.2 964.4L2652.5 964.4L2648.9 964.4L2645.2 964.4L2641.6 964.5L2637.9 964.5L2634.2 964.5L2630.6 964.5L2626.9 964.6L2623.3 964.6L2619.6 964.6L2616.0 964.6L2612.3 964.7L2608.7 964.7L2605.0 964.7L2601.3 964.8L2597.7 964.8L2594.0 964.8L2590.4 964.8L2586.7 964.9L2583.1 964.9L2579.4 964.9L2575.7 965.0L2572.1 965.0L2568.4 965.1L2564.8 965.1L2561.1 965.1L2557.5 965.2L2553.8 965.2L2550.2 965.3L2546.5 965.3L2542.8 965.3L2539.2 965.4L2535.5 965.4L2531.9 965.5L2528.2 965.5L2524.6 965.6L2520.9 965.6L2517.3 965.6L2513.6 965.7L2509.9 965.7L2506.3 965.8L2502.6 965.8L2499.0 965.9L2495.3 965.9L2491.7 966.0L2488.0 966.0L2484.4 966.1L2480.7 966.1L2477.0 966.2L2473.4 966.2L2469.7 966.3L2466.1 966.4L2462.4 966.4L2458.8 966.5L2455.1 966.6L2451.4 966.6L2447.8 966.7L2444.1 966.8L2440.5 966.8L2436.8 966.9L2433.2 967.0L2429.5 967.1L2425.8 967.2L2422.2 967.2L2418.5 967.3L2414.9 967.4L2411.2 967.5L2407.6 967.6L2403.9 967.7L2400.2 967.8L2396.5 967.9L2392.9 968.1L2389.2 968.2L2385.5 968.4L2381.9 968.6L2378.2 968.8L2374.5 968.9L2370.9 969.1L2367.2 969.4L2363.5 969.6L2359.9 969.8L2356.2 970.0L2352.6 970.2L2348.9 970.5L2345.2 970.7L2341.6 971.0L2337.9 971.3L2334.2 971.5L2330.6 971.8L2326.9 972.1L2323.2 972.4L2319.6 972.7L2315.9 973.0L2312.3 973.3L2308.6 973.7L2304.9 974.0L2301.3 974.3L2297.6 974.7L2293.9 975.0L2290.3 975.4L2286.6 975.8L2282.9 976.2L2279.3 976.6L2275.6 977.0L2271.9 977.4L2268.3 977.8L2264.6 978.3L2260.9 978.7L2257.3 979.2L2253.6 979.6L2249.9 980.1L2246.3 980.6L2242.6 981.1L2238.9 981.6L2235.3 982.1L2231.6 982.6L2227.9 983.2L2224.3 983.7L2220.6 984.3L2216.9 984.8L2213.3 985.4L2209.6 986.0L2205.9 986.6L2202.3 987.2L2198.6 987.9L2194.9 988.5L2191.3 989.1L2187.6 989.8L2183.9 990.5L2180.3 991.2L2176.6 991.8L2172.9 992.6L2169.3 993.3L2165.6 994.0L2161.9 994.8L2158.2 995.5L2154.6 996.3L2150.9 997.1L2147.2 997.9L2143.6 998.7L2139.9 999.5L2136.2 1000.3L2132.6 1001.2L2128.9 1002.0L2125.2 1002.9L2121.6 1003.8L2117.9 1004.7L2114.2 1005.6L2110.6 1006.5L2106.9 1007.5L2103.2 1008.4L2099.5 1009.4L2095.9 1010.4L2092.2 1011.4L2088.5 1012.4L2084.9 1013.4L2081.2 1014.5L2077.5 1015.5L2073.9 1016.6L2070.2 1017.7L2066.5 1018.8L2062.9 1019.9L2059.2 1021.1L2055.5 1022.2L2051.9 1023.4L2048.2 1024.5L2044.5 1025.7L2040.8 1027.0L2037.2 1028.2L2033.5 1029.4L2029.8 1030.7L2026.2 1032.0L2022.5 1033.3L2018.8 1034.6L2015.2 1035.9L2011.5 1037.2L2007.8 1038.6L2004.2 1040.0L2000.5 1041.4L1996.8 1042.8L1993.2 1044.2L1989.5 1045.6L1985.8 1047.1L1982.1 1048.6L1978.5 1050.1L1974.8 1051.6L1971.1 1053.1L1967.5 1054.7L1963.8 1056.3L1960.1 1057.8L1956.5 1059.4L1952.8 1061.1L1949.1 1062.7L1945.5 1064.4L1941.8 1066.0L1938.1 1067.7L1934.5 1069.5L1930.8 1071.2L1927.1 1072.9L1923.5 1074.7L1919.8 1076.5L1916.1 1078.3L1912.5 1080.2L1908.8 1082.0L1905.1 1083.9L1901.5 1085.8L1897.8 1087.7L1894.1 1089.6L1890.5 1091.5L1886.8 1093.5L1883.1 1095.5L1879.5 1097.5L1875.8 1099.5L1872.2 1101.6L1868.5 1103.6L1864.8 1105.7L1861.2 1107.8L1857.5 1109.9L1853.8 1112.0L1850.2 1114.2L1846.5 1116.3L1842.9 1118.5L1839.2 1120.7L1835.5 1122.9L1831.9 1125.1L1828.2 1127.4L1824.5 1129.6L1820.9 1131.9L1817.2 1134.1L1813.6 1136.4L1809.9 1138.7L1806.2 1141.0L1802.6 1143.4L1798.9 1145.7L1795.3 1148.1L1791.6 1150.4L1787.9 1152.8L1784.3 1155.2L1780.6 1157.6L1777.0 1160.0L1773.3 1162.4L1769.7 1164.8L1766.0 1167.3L1762.3 1169.7L1758.7 1172.2L1755.0 1174.6L1751.4 1177.1L1747.7 1179.6L1744.1 1182.1L1740.4 1184.6L1736.7 1187.1L1733.1 1189.6L1729.4 1192.1L1725.8 1194.6L1722.1 1197.2L1718.5 1199.7L1714.8 1202.2L1711.1 1204.8L1707.5 1207.4L1703.8 1209.9L1700.2 1212.5L1696.5 1215.1L1692.9 1217.7L1689.2 1220.3L1685.5 1223.0L1681.9 1225.7L1678.2 1228.3L1674.6 1231.1L1670.9 1233.8L1667.2 1236.5L1663.6 1239.3L1659.9 1242.1L1656.3 1245.0L1652.6 1247.8L1648.9 1250.7L1645.3 1253.7L1641.6 1256.7L1637.9 1259.7L1634.3 1262.7L1630.6 1265.8L1627.0 1268.9L1623.3 1272.1L1619.7 1275.3L1616.0 1278.5L1612.3 1281.8L1608.7 1285.2L1605.0 1288.6L1601.4 1292.0L1597.7 1295.5L1594.0 1299.1L1590.4 1302.6L1586.7 1306.3L1583.1 1310.0L1579.4 1313.7L1575.7 1317.4L1572.0 1321.2L1568.3 1325.1L1564.7 1329.0L1561.0 1332.9L1557.3 1336.9L1553.6 1340.9L1549.9 1345.0L1546.2 1349.2L1542.6 1353.4L1538.9 1357.6L1535.2 1361.9L1531.5 1366.2L1527.9 1370.6L1524.2 1375.0L1520.5 1379.4L1516.8 1383.9L1513.1 1388.5L1509.5 1393.1L1505.8 1397.7L1502.1 1402.4L1498.4 1407.2L1494.8 1412.0L1491.1 1416.8L1487.4 1421.7L1483.7 1426.6L1480.1 1431.5L1476.4 1436.5L1472.7 1441.6L1469.1 1446.7L1465.4 1451.8L1461.7 1457.0L1458.0 1462.2L1454.4 1467.5L1450.7 1472.8L1447.0 1478.1L1443.4 1483.5L1439.7 1488.9L1436.0 1494.4L1432.4 1499.9L1428.7 1505.4L1425.0 1510.9L1421.4 1516.5L1417.7 1522.1L1414.0 1527.8L1410.4 1533.5L1406.7 1539.2L1403.0 1544.9L1399.4 1550.7L1395.7 1556.5L1392.1 1562.3L1388.4 1568.2L1384.7 1574.0L1381.1 1579.9L1377.4 1585.9L1373.7 1591.8L1370.1 1597.8L1366.4 1603.8L1362.8 1609.8L1359.1 1615.8L1355.4 1621.8L1351.8 1627.9L1348.1 1634.0L1344.5 1640.1L1340.8 1646.2L1337.1 1652.3L1333.5 1658.4L1329.8 1664.6L1326.2 1670.7L1322.5 1676.9L1318.9 1683.0L1315.2 1689.2L1311.5 1695.4L1307.9 1701.5L1304.2 1707.7L1300.6 1713.9L1296.9 1720.0L1293.3 1726.2L1289.6 1732.3L1286.0 1738.4L1282.3 1744.5L1278.7 1750.6L1275.0 1756.7L1271.4 1762.7L1267.7 1768.7L1264.1 1774.7L1260.4 1780.7L1256.8 1786.7L1253.1 1792.8L1249.4 1798.9L1245.7 1805.1L1242.1 1811.4L1238.4 1817.7L1234.8 1823.9L1231.1 1830.2L1227.5 1836.4L1223.8 1842.5L1220.2 1848.6L1216.6 1854.5L1213.0 1860.3L1209.4 1865.9L1205.8 1871.4L1202.2 1876.7L1198.6 1882.0L1194.9 1887.2L1191.3 1892.3L1187.7 1897.4L1184.0 1902.4L1180.4 1907.3L1176.8 1912.1L1173.2 1916.9L1169.5 1921.6L1165.9 1926.2L1162.3 1930.8L1158.7 1935.2L1155.1 1939.6L1151.5 1943.8L1147.9 1948.0L1144.3 1952.0L1140.7 1956.0L1137.2 1959.8L1133.5 1963.2L1129.9 1966.4L1126.3 1969.4L1122.6 1972.2L1119.0 1974.9L1115.4 1977.4L1111.8 1979.8L1108.2 1982.2L1104.5 1984.4L1100.9 1986.7L1097.2 1988.9L1093.6 1991.1L1089.9 1993.4L1086.3 1995.6L1082.6 1997.8L1079.0 1999.9L1075.4 2001.9L1071.8 2003.9L1068.2 2005.7L1064.6 2007.5L1061.0 2009.2L1057.4 2010.8L1053.7 2012.4L1050.1 2013.9L1046.5 2015.3L1042.9 2016.7L1039.3 2018.0L1035.7 2019.3L1032.1 2020.5L1028.5 2021.7L1024.9 2022.8L1021.3 2023.9L1017.6 2025.0L1014.0 2026.0L1010.4 2026.9L1006.8 2027.8L1003.2 2028.7L999.6 2029.6L996.0 2030.4L992.3 2031.1L988.7 2031.9L985.1 2032.6L981.5 2033.3L977.9 2033.9L974.3 2034.5L970.6 2035.1L967.0 2035.6L963.4 2036.2L959.8 2036.7L956.1 2037.1L952.5 2037.6L948.9 2038.0L945.2 2038.4L941.6 2038.8L938.0 2039.2L934.3 2039.6L930.7 2039.9L927.1 2040.3L923.4 2040.6L919.8 2040.9L916.1 2041.2L912.5 2041.5L908.9 2041.8L905.2 2042.0L901.6 2042.3L898.0 2042.5L894.3 2042.7L890.7 2042.9L887.0 2043.1L883.4 2043.3L879.7 2043.5L876.1 2043.7L872.4 2043.8L868.8 2044.0L865.2 2044.1L861.5 2044.3L857.9 2044.4L854.3 2044.5L850.6 2044.6L847.0 2044.6L843.3 2044.7L839.7 2044.8L836.0 2044.8L832.4 2044.9L828.7 2044.9L825.1 2045.0L821.4 2045.0L817.8 2045.1L814.1 2045.1L810.5 2045.2L806.8 2045.2L803.2 2045.3L799.5 2045.3L795.8 2045.3L792.2 2045.4L788.5 2045.4L784.9 2045.4L781.2 2045.5L777.6 2045.5L773.9 2045.5L770.3 2045.6L766.6 2045.6L763.0 2045.6L759.3 2045.7L755.7 2045.7L752.0 2045.7L748.3 2045.7L744.7 2045.8L741.0 2045.8L737.4 2045.8L733.7 2045.9L730.1 2045.9L726.4 2045.9L722.8 2045.9L719.1 2046.0L715.5 2046.0L711.8 2046.0L708.1 2046.1L704.5 2046.1L700.8 2046.1L697.2 2046.1L693.5 2046.1L689.9 2046.1L686.2 2046.2L682.6 2046.2L678.9 2046.2L675.3 2046.2L671.6 2046.2L668.0 2046.2L664.3 2046.2L660.7 2046.2L657.0 2046.2L653.4 2046.2L649.7 2046.2L646.0 2046.2L642.4 2046.2L638.7 2046.2L635.1 2046.2L631.4 2046.2L627.8 2046.2L624.1 2046.2L620.5 2046.2L616.8 2046.2L613.1 2046.2L609.5 2046.2L605.8 2046.2L602.2 2046.2L598.5 2046.2L594.9 2046.2L591.2 2046.2L587.6 2046.2L583.9 2046.2L580.3 2046.2L576.6 2046.2L570.6 2046.2Z"/>
<path fill="#00f" d="M570.6 701.1L576.6 701.1L580.3 701.1L583.9 701.1L587.6 701.1L591.2 701.1L594.9 701.1L598.5 701.1L602.2 701.1L605.8 701.1L609.5 701.1L613.1 701.1L616.8 701.1L620.5 701.1L624.1 701.1L627.8 701.1L631.4 701.1L635.1 701.1L638.7 701.1L642.4 701.1L646.0 701.1L649.7 701.1L653.4 701.1L657.0 701.1L660.7 701.1L664.3 701.1L668.0 701.1L671.6 701.1L675.3 701.1L678.9 701.1L682.6 701.1L686.2 701.1L689.9 701.1L693.6 701.1L697.2 701.1L700.9 701.1L704.5 701.1L708.2 701.1L711.8 701.1L715.5 701.1L719.1 701.1L722.8 701.1L726.4 701.1L730.1 701.1L733.7 701.1L737.4 701.2L741.1 701.2L744.7 701.2L748.4 701.2L752.0 701.2L755.7 701.2L759.3 701.2L763.0 701.3L766.6 701.3L770.3 701.3L773.9 701.3L777.6 701.3L781.3 701.3L784.9 701.4L788.6 701.4L792.2 701.4L795.9 701.4L799.5 701.4L803.2 701.4L806.8 701.4L810.5 701.4L814.2 701.4L817.8 701.4L821.5 701.5L825.1 701.5L828.8 701.5L832.4 701.5L836.0 701.5L839.7 701.6L843.3 701.6L847.0 701.7L850.6 701.8L854.3 701.9L857.9 701.9L861.5 702.0L865.2 702.2L868.8 702.3L872.5 702.4L876.1 702.6L879.8 702.7L883.4 702.9L887.0 703.1L890.7 703.2L894.3 703.4L898.0 703.6L901.6 703.9L905.2 704.1L908.9 704.3L912.5 704.6L916.2 704.9L919.8 705.1L923.4 705.4L927.1 705.7L930.7 706.1L934.4 706.4L938.0 706.7L941.6 707.1L945.3 707.5L948.9 707.9L952.5 708.3L956.2 708.7L959.8 709.1L963.5 709.6L967.1 710.0L970.7 710.5L974.4 711.0L978.0 711.4L981.7 712.0L985.3 712.5L989.0 713.0L992.6 713.5L996.2 714.1L999.9 714.6L1003.5 715.2L1007.2 715.7L1010.8 716.3L1014.5 716.9L1018.1 717.5L1021.8 718.1L1025.4 718.7L1029.1 719.3L1032.7 719.9L1036.4 720.5L1040.0 721.2L1043.7 721.8L1047.3 722.4L1051.0 723.1L1054.6 723.7L1058.3 724.4L1061.9 725.0L1065.6 725.7L1069.2 726.3L1072.9 727.0L1076.5 727.7L1080.2 728.3L1083.8 729.0L1087.5 729.6L1091.1 730.3L1094.8 731.0L1098.5 731.6L1102.1 732.3L1105.8 732.9L1109.4 733.6L1113.1 734.3L1116.7 734.9L1120.4 735.5L1124.1 736.2L1127.7 736.8L1131.4 737.5L1135.0 738.1L1138.7 738.7L1142.4 739.4L1146.0 740.0L1149.7 740.6L1153.3 741.2L1157.0 741.8L1160.7 742.4L1164.3 743.0L1168.0 743.5L1171.7 744.1L1175.3 744.7L1179.0 745.2L1182.7 745.7L1186.3 746.3L1190.0 746.8L1193.7 747.3L1197.3 747.8L1201.0 748.3L1204.7 748.8L1208.3 749.2L1212.0 749.7L1215.7 750.1L1219.3 750.5L1223.0 750.9L1226.7 751.3L1230.4 751.7L1234.1 752.1L1237.7 752.4L1241.4 752.7L1245.1 753.0L1248.8 753.3L1252.5 753.5L1256.2 753.7L1259.9 753.9L1263.6 754.0L1267.3 754.1L1271.0 754.2L1274.7 754.2L1278.4 754.2L1282.1 754.1L1285.8 754.0L1289.5 753.8L1293.2 753.6L1297.0 753.3L1300.7 753.0L1304.4 752.6L1308.1 752.2L1311.8 751.6L1315.6 751.1L1319.3 750.4L1323.0 749.7L1326.8 749.0L1330.5 748.1L1334.2 747.2L1337.9 746.2L1341.7 745.2L1345.4 744.0L1349.2 742.7L1353.0 741.2L1356.7 739.6L1360.5 737.8L1364.2 735.9L1367.9 733.8L1371.7 731.7L1375.4 729.4L1379.1 727.0L1382.7 724.6L1386.4 722.0L1390.1 719.4L1393.8 716.6L1397.4 713.9L1401.1 711.0L1404.8 708.1L1408.4 705.2L1412.1 702.2L1415.8 699.1L1419.4 696.1L1423.1 692.9L1426.8 689.6L1430.4 686.2L1434.1 682.7L1437.7 679.2L1441.4 675.5L1445.1 671.8L1448.8 668.0L1452.5 664.2L1456.2 660.2L1459.9 656.2L1463.6 652.2L1467.3 648.0L1470.9 643.9L1474.6 639.6L1478.3 635.4L1482.0 631.0L1485.6 626.7L1489.3 622.3L1493.0 617.9L1496.6 613.5L1500.3 609.1L1504.0 604.6L1507.6 600.2L1511.3 595.7L1514.9 591.2L1518.6 586.7L1522.3 582.2L1525.9 577.7L1529.6 573.2L1533.2 568.7L1536.9 564.2L1540.5 559.7L1544.2 555.3L1547.8 550.8L1551.5 546.3L1555.1 541.9L1558.8 537.4L1562.4 533.0L1566.1 528.6L1569.7 524.2L1573.3 519.9L1576.9 515.7L1580.6 511.5L1584.2 507.4L1587.8 503.4L1591.4 499.4L1595.0 495.5L1598.7 491.6L1602.3 487.7L1605.9 484.0L1609.6 480.2L1613.2 476.5L1616.8 472.9L1620.5 469.3L1624.1 465.7L1627.8 462.2L1631.4 458.7L1635.1 455.2L1638.7 451.7L1642.4 448.3L1646.1 444.9L1649.7 441.5L1653.4 438.1L1657.0 434.8L1660.7 431.5L1664.3 428.3L1668.0 425.2L1671.6 422.1L1675.3 419.1L1678.9 416.2L1682.5 413.4L1686.2 410.7L1689.8 408.1L1693.4 405.5L1697.1 403.0L1700.7 400.6L1704.3 398.2L1708.0 396.0L1711.6 393.8L1715.2 391.6L1718.8 389.6L1722.5 387.6L1726.1 385.7L1729.7 383.8L1733.3 382.1L1736.9 380.3L1740.5 378.7L1744.2 377.1L1747.8 375.6L1751.4 374.1L1755.0 372.7L1758.6 371.3L1762.2 370.0L1765.8 368.8L1769.4 367.6L1773.0 366.5L1776.6 365.4L1780.2 364.4L1783.8 363.5L1787.4 362.6L1791.0 361.7L1794.6 360.9L1798.2 360.1L1801.8 359.4L1805.4 358.8L1809.0 358.1L1812.6 357.6L1816.2 357.0L1819.8 356.6L1823.4 356.1L1827.1 355.7L1830.7 355.3L1834.3 355.0L1837.9 354.6L1841.5 354.3L1845.1 354.1L1848.8 353.8L1852.4 353.6L1856.0 353.5L1859.6 353.3L1863.2 353.2L1866.8 353.1L1870.5 353.1L1874.1 353.0L1877.7 353.1L1881.3 353.1L1884.9 353.2L1888.5 353.2L1892.2 353.4L1895.8 353.5L1899.4 353.7L1903.0 353.9L1906.6 354.2L1910.3 354.4L1913.9 354.7L1917.5 355.1L1921.1 355.4L1924.7 355.8L1928.4 356.2L1932.0 356.6L1935.6 357.1L1939.2 357.6L1942.8 358.1L1946.5 358.7L1950.1 359.3L1953.7 359.9L1957.4 360.5L1961.0 361.1L1964.7 361.7L1968.3 362.4L1972.0 363.0L1975.6 363.7L1979.2 364.4L1982.9 365.1L1986.5 365.7L1990.2 366.4L1993.8 367.1L1997.5 367.8L2001.1 368.5L2004.8 369.3L2008.4 370.0L2012.1 370.7L2015.8 371.4L2019.4 372.1L2023.1 372.8L2026.7 373.5L2030.4 374.2L2034.0 374.9L2037.7 375.6L2041.4 376.3L2045.0 377.0L2048.7 377.7L2052.3 378.4L2056.0 379.1L2059.6 379.8L2063.3 380.5L2066.9 381.2L2070.6 381.9L2074.3 382.6L2077.9 383.3L2081.6 384.0L2085.2 384.7L2088.9 385.4L2092.5 386.1L2096.2 386.8L2099.9 387.5L2103.5 388.1L2107.2 388.8L2110.8 389.5L2114.5 390.1L2118.2 390.8L2121.8 391.5L2125.5 392.1L2129.1 392.8L2132.8 393.4L2136.5 394.0L2140.1 394.6L2143.8 395.3L2147.5 395.9L2151.1 396.5L2154.8 397.1L2158.5 397.6L2162.1 398.2L2165.8 398.8L2169.4 399.3L2173.1 399.9L2176.8 400.4L2180.4 401.0L2184.1 401.5L2187.8 402.0L2191.5 402.5L2195.1 402.9L2198.8 403.4L2202.5 403.9L2206.1 404.3L2209.8 404.7L2213.4 405.2L2217.1 405.6L2220.8 406.0L2224.4 406.4L2228.1 406.8L2231.7 407.3L2235.4 407.7L2239.1 408.1L2242.7 408.4L2246.4 408.8L2250.1 409.2L2253.7 409.6L2257.4 410.0L2261.0 410.3L2264.7 410.7L2268.4 411.1L2272.0 411.4L2275.7 411.8L2279.3 412.1L2283.0 412.4L2286.7 412.8L2290.3 413.1L2294.0 413.4L2297.6 413.8L2301.3 414.1L2305.0 414.4L2308.6 414.7L2312.3 415.0L2315.9 415.3L2319.6 415.6L2323.3 415.9L2326.9 416.2L2330.6 416.5L2334.2 416.7L2337.9 417.0L2341.6 417.3L2345.2 417.5L2348.9 417.8L2352.5 418.1L2356.2 418.3L2359.9 418.6L2363.5 418.8L2367.2 419.0L2370.8 419.3L2374.5 419.5L2378.2 419.7L2381.8 420.0L2385.5 420.2L2389.1 420.4L2392.8 420.6L2396.5 420.8L2400.1 421.0L2403.8 421.2L2407.4 421.4L2411.1 421.6L2414.8 421.8L2418.4 422.0L2422.1 422.1L2425.7 422.3L2429.4 422.5L2433.1 422.6L2436.7 422.8L2440.4 422.9L2444.1 423.0L2447.7 423.2L2451.4 423.3L2455.0 423.4L2458.7 423.5L2462.4 423.6L2466.0 423.7L2469.7 423.8L2473.4 423.9L2477.0 424.0L2480.7 424.0L2484.3 424.1L2488.0 424.2L2491.7 424.2L2495.3 424.3L2499.0 424.4L2502.6 424.4L2506.3 424.5L2509.9 424.5L2513.6 424.6L2517.3 424.6L2520.9 424.7L2524.6 424.7L2528.2 424.8L2531.9 424.8L2535.5 424.9L2539.2 424.9L2542.8 425.0L2546.5 425.0L2550.2 425.1L2553.8 425.1L2557.5 425.1L2561.1 425.2L2564.8 425.2L2568.4 425.2L2572.1 425.3L2575.8 425.3L2579.4 425.3L2583.1 425.4L2586.7 425.4L2590.4 425.4L2594.0 425.4L2597.7 425.5L2601.3 425.5L2605.0 425.5L2608.7 425.6L2612.3 425.6L2616.0 425.6L2619.6 425.7L2623.3 425.7L2626.9 425.7L2630.6 425.7L2634.2 425.8L2637.9 425.8L2641.6 425.8L2645.2 425.8L2648.9 425.8L2652.5 425.9L2656.2 425.9L2659.8 425.9L2663.5 425.9L2667.2 425.9L2670.8 425.9L2674.5 425.9L2678.1 425.9L2681.8 425.9L2685.4 425.9L2689.1 425.9L2692.7 425.9L2696.4 425.9L2700.1 425.9L2703.7 425.9L2707.4 425.9L2711.0 425.9L2714.7 425.9L2718.3 425.9L2722.0 425.9L2725.6 425.9L2729.3 425.9L2733.0 425.9L2736.6 425.9L2740.3 425.9L2743.9 425.9L2747.6 425.9L2751.2 425.9L2754.9 425.9L2758.5 425.9L2762.2 425.9L2765.8 425.9L2769.5 425.9L2775.5 425.9L2775.5 416.9L2769.5 416.9L2765.8 416.9L2762.2 416.9L2758.5 416.9L2754.9 416.9L2751.2 416.9L2747.6 416.9L2743.9 416.9L2740.3 416.9L2736.6 416.9L2733.0 416.9L2729.3 416.9L2725.6 416.9L2722.0 416.9L2718.3 416.9L2714.7 416.9L2711.0 416.9L2707.4 416.9L2703.7 416.9L2700.1 416.9L2696.4 416.9L2692.7 416.9L2689.1 416.9L2685.4 416.9L2681.8 416.9L2678.1 416.9L2674.5 416.9L2670.8 416.9L2667.2 416.9L2663.5 416.9L2659.9 416.9L2656.2 416.9L2652.6 416.9L2648.9 416.8L2645.3 416.8L2641.6 416.8L2638.0 416.8L2634.3 416.8L2630.6 416.7L2627.0 416.7L2623.3 416.7L2619.7 416.7L2616.0 416.6L2612.4 416.6L2608.7 416.6L2605.1 416.5L2601.4 416.5L2597.8 416.5L2594.1 416.4L2590.4 416.4L2586.8 416.4L2583.1 416.4L2579.5 416.3L2575.8 416.3L2572.2 416.3L2568.5 416.2L2564.9 416.2L2561.2 416.2L2557.6 416.1L2553.9 416.1L2550.3 416.1L2546.6 416.0L2543.0 416.0L2539.3 415.9L2535.6 415.9L2532.0 415.8L2528.3 415.8L2524.7 415.8L2521.0 415.7L2517.4 415.6L2513.7 415.6L2510.1 415.5L2506.4 415.5L2502.8 415.4L2499.1 415.4L2495.5 415.3L2491.8 415.2L2488.2 415.2L2484.5 415.1L2480.9 415.0L2477.2 415.0L2473.6 414.9L2469.9 414.8L2466.3 414.7L2462.6 414.6L2459.0 414.5L2455.3 414.4L2451.7 414.3L2448.0 414.2L2444.4 414.0L2440.7 413.9L2437.1 413.8L2433.4 413.6L2429.8 413.5L2426.1 413.3L2422.5 413.1L2418.9 413.0L2415.2 412.8L2411.6 412.6L2407.9 412.4L2404.3 412.2L2400.6 412.0L2397.0 411.8L2393.3 411.6L2389.7 411.4L2386.0 411.2L2382.4 411.0L2378.7 410.8L2375.1 410.5L2371.4 410.3L2367.8 410.1L2364.1 409.8L2360.5 409.6L2356.8 409.3L2353.2 409.1L2349.5 408.8L2345.9 408.6L2342.2 408.3L2338.6 408.1L2334.9 407.8L2331.3 407.5L2327.6 407.2L2324.0 406.9L2320.3 406.7L2316.7 406.4L2313.0 406.1L2309.4 405.8L2305.7 405.5L2302.1 405.1L2298.4 404.8L2294.8 404.5L2291.1 404.2L2287.5 403.9L2283.8 403.5L2280.2 403.2L2276.5 402.8L2272.9 402.5L2269.2 402.1L2265.6 401.8L2261.9 401.4L2258.3 401.1L2254.6 400.7L2251.0 400.3L2247.3 399.9L2243.7 399.5L2240.0 399.2L2236.4 398.8L2232.7 398.4L2229.1 398.0L2225.4 397.5L2221.8 397.1L2218.1 396.7L2214.5 396.3L2210.8 395.9L2207.2 395.4L2203.5 395.0L2199.9 394.5L2196.3 394.1L2192.6 393.6L2189.0 393.1L2185.3 392.6L2181.7 392.1L2178.1 391.6L2174.4 391.1L2170.8 390.5L2167.1 390.0L2163.5 389.4L2159.8 388.9L2156.2 388.3L2152.5 387.7L2148.9 387.1L2145.3 386.5L2141.6 385.9L2138.0 385.3L2134.3 384.6L2130.7 384.0L2127.0 383.4L2123.4 382.7L2119.7 382.1L2116.1 381.4L2112.4 380.8L2108.8 380.1L2105.1 379.4L2101.5 378.8L2097.8 378.1L2094.2 377.4L2090.5 376.7L2086.9 376.0L2083.2 375.3L2079.6 374.6L2075.9 373.9L2072.3 373.2L2068.6 372.5L2064.9 371.8L2061.3 371.1L2057.6 370.4L2054.0 369.7L2050.3 369.0L2046.7 368.4L2043.0 367.7L2039.4 367.0L2035.7 366.3L2032.1 365.6L2028.4 364.9L2024.8 364.2L2021.1 363.4L2017.5 362.7L2013.8 362.0L2010.1 361.3L2006.5 360.6L2002.8 359.9L1999.2 359.2L1995.5 358.5L1991.9 357.8L1988.2 357.1L1984.5 356.4L1980.9 355.7L1977.2 355.0L1973.5 354.3L1969.9 353.7L1966.2 353.0L1962.5 352.4L1958.9 351.7L1955.2 351.1L1951.5 350.5L1947.9 349.9L1944.2 349.3L1940.5 348.8L1936.8 348.3L1933.1 347.8L1929.4 347.3L1925.7 346.9L1922.0 346.5L1918.3 346.1L1914.7 345.8L1911.0 345.5L1907.3 345.2L1903.6 345.0L1899.9 344.7L1896.2 344.5L1892.5 344.4L1888.8 344.3L1885.1 344.2L1881.4 344.1L1877.7 344.1L1874.1 344.0L1870.4 344.1L1866.7 344.1L1863.0 344.2L1859.3 344.3L1855.6 344.5L1851.9 344.7L1848.2 344.9L1844.5 345.1L1840.8 345.4L1837.1 345.7L1833.4 346.0L1829.7 346.4L1826.1 346.8L1822.4 347.2L1818.7 347.7L1815.0 348.2L1811.3 348.8L1807.5 349.4L1803.8 350.0L1800.1 350.7L1796.4 351.5L1792.7 352.3L1789.0 353.2L1785.3 354.1L1781.6 355.1L1777.9 356.1L1774.2 357.2L1770.5 358.3L1766.8 359.5L1763.0 360.7L1759.3 362.1L1755.6 363.4L1751.9 364.9L1748.2 366.4L1744.5 367.9L1740.8 369.5L1737.1 371.2L1733.4 373.0L1729.7 374.8L1726.0 376.7L1722.4 378.7L1718.7 380.7L1715.0 382.8L1711.3 385.0L1707.6 387.2L1703.9 389.5L1700.2 391.9L1696.6 394.4L1692.9 396.9L1689.2 399.5L1685.5 402.2L1681.9 405.0L1678.2 407.8L1674.5 410.7L1670.8 413.7L1667.2 416.8L1663.5 420.0L1659.9 423.2L1656.2 426.5L1652.5 429.9L1648.9 433.3L1645.2 436.7L1641.6 440.1L1637.9 443.5L1634.3 447.0L1630.6 450.5L1626.9 454.0L1623.3 457.5L1619.6 461.1L1616.0 464.7L1612.3 468.3L1608.7 472.0L1605.0 475.7L1601.3 479.5L1597.6 483.2L1593.9 487.1L1590.2 491.0L1586.6 494.9L1582.9 498.9L1579.2 502.9L1575.5 507.1L1571.8 511.2L1568.1 515.5L1564.4 519.8L1560.7 524.1L1557.1 528.6L1553.4 533.0L1549.8 537.4L1546.1 541.9L1542.4 546.4L1538.8 550.9L1535.1 555.3L1531.5 559.8L1527.8 564.3L1524.1 568.8L1520.5 573.3L1516.8 577.8L1513.2 582.3L1509.5 586.8L1505.9 591.3L1502.2 595.8L1498.6 600.2L1494.9 604.7L1491.3 609.1L1487.6 613.5L1484.0 617.9L1480.4 622.3L1476.7 626.6L1473.1 630.9L1469.5 635.2L1465.8 639.4L1462.2 643.6L1458.6 647.7L1454.9 651.7L1451.3 655.7L1447.7 659.7L1444.1 663.5L1440.5 667.3L1436.9 671.0L1433.2 674.6L1429.6 678.0L1425.9 681.4L1422.3 684.6L1418.6 687.8L1415.0 690.8L1411.3 693.8L1407.7 696.8L1404.1 699.7L1400.4 702.6L1396.8 705.4L1393.1 708.1L1389.5 710.8L1385.8 713.4L1382.2 715.9L1378.6 718.3L1375.0 720.7L1371.3 722.9L1367.7 725.0L1364.1 726.9L1360.6 728.8L1357.0 730.5L1353.4 732.0L1349.9 733.5L1346.4 734.7L1342.8 735.8L1339.3 736.9L1335.7 737.8L1332.1 738.8L1328.5 739.6L1324.9 740.4L1321.3 741.1L1317.8 741.7L1314.2 742.3L1310.6 742.8L1307.0 743.3L1303.4 743.7L1299.8 744.1L1296.2 744.4L1292.7 744.6L1289.1 744.8L1285.5 745.0L1281.9 745.1L1278.3 745.2L1274.7 745.2L1271.1 745.2L1267.5 745.1L1263.8 745.0L1260.2 744.9L1256.6 744.7L1253.0 744.5L1249.4 744.3L1245.8 744.1L1242.1 743.8L1238.5 743.5L1234.9 743.2L1231.3 742.8L1227.6 742.4L1224.0 742.1L1220.4 741.6L1216.7 741.2L1213.1 740.8L1209.4 740.4L1205.8 739.9L1202.2 739.4L1198.5 739.0L1194.9 738.5L1191.2 738.0L1187.6 737.4L1183.9 736.9L1180.3 736.4L1176.7 735.9L1173.0 735.3L1169.4 734.7L1165.7 734.2L1162.1 733.6L1158.4 733.0L1154.8 732.4L1151.1 731.8L1147.5 731.2L1143.8 730.6L1140.2 730.0L1136.5 729.4L1132.9 728.7L1129.2 728.1L1125.6 727.5L1121.9 726.8L1118.3 726.2L1114.6 725.5L1111.0 724.9L1107.3 724.2L1103.7 723.6L1100.0 722.9L1096.4 722.2L1092.7 721.6L1089.1 720.9L1085.4 720.3L1081.8 719.6L1078.1 718.9L1074.4 718.3L1070.8 717.6L1067.1 717.0L1063.5 716.3L1059.8 715.7L1056.2 715.0L1052.5 714.4L1048.8 713.7L1045.2 713.1L1041.5 712.4L1037.9 711.8L1034.2 711.2L1030.5 710.6L1026.9 709.9L1023.2 709.3L1019.6 708.7L1015.9 708.1L1012.2 707.5L1008.6 707.0L1004.9 706.4L1001.2 705.8L997.6 705.3L993.9 704.7L990.2 704.2L986.6 703.6L982.9 703.1L979.2 702.6L975.6 702.1L971.9 701.6L968.2 701.2L964.6 700.7L960.9 700.2L957.2 699.8L953.6 699.4L949.9 699.0L946.2 698.6L942.5 698.2L938.9 697.8L935.2 697.5L931.5 697.1L927.8 696.8L924.2 696.5L920.5 696.2L916.8 695.9L913.2 695.6L909.5 695.4L905.8 695.1L902.2 694.9L898.5 694.7L894.8 694.5L891.2 694.3L887.5 694.1L883.8 693.9L880.1 693.7L876.5 693.6L872.8 693.4L869.1 693.3L865.5 693.2L861.8 693.1L858.1 692.9L854.5 692.9L850.8 692.8L847.1 692.7L843.5 692.6L839.8 692.6L836.1 692.6L832.5 692.5L828.8 692.5L825.2 692.5L821.5 692.5L817.8 692.4L814.2 692.4L810.5 692.4L806.9 692.4L803.2 692.4L799.6 692.4L795.9 692.4L792.2 692.4L788.6 692.4L784.9 692.4L781.3 692.3L777.6 692.3L774.0 692.3L770.3 692.3L766.7 692.3L763.0 692.3L759.4 692.2L755.7 692.2L752.1 692.2L748.4 692.2L744.7 692.2L741.1 692.2L737.4 692.2L733.8 692.1L730.1 692.1L726.5 692.1L722.8 692.1L719.2 692.1L715.5 692.1L711.8 692.1L708.2 692.1L704.5 692.1L700.9 692.1L697.2 692.1L693.6 692.1L689.9 692.1L686.2 692.1L682.6 692.1L678.9 692.1L675.3 692.1L671.6 692.1L668.0 692.1L664.3 692.1L660.7 692.1L657.0 692.1L653.4 692.1L649.7 692.1L646.0 692.1L642.4 692.1L638.7 692.1L635.1 692.1L631.4 692.1L627.8 692.1L624.1 692.1L620.5 692.1L616.8 692.1L613.1 692.1L609.5 692.1L605.8 692.1L602.2 692.1L598.5 692.1L594.9 692.1L591.2 692.1L587.6 692.1L583.9 692.1L580.3 692.1L576.6 692.1L570.6 692.1Z"/>
<rect x="576.6" y="692" width="57.5" height="12.8" fill="#00f" stroke="none"/>
</g>
<g clip-path="url(#pc)" fill="none" stroke-width="4.0" stroke-linejoin="miter">
<g stroke="#000">
<rect x="560.2" y="670.0" width="46.0" height="46.0"/>
<rect x="751.9" y="682.9" width="46.0" height="46.0"/>
<rect x="880.0" y="648.0" width="46.0" height="46.0"/>
<rect x="1008.0" y="678.0" width="46.0" height="46.0"/>
<rect x="1121.0" y="788.9" width="46.0" height="46.0"/>
<rect x="1265.0" y="919.9" width="46.0" height="46.0"/>
<rect x="1400.9" y="1080.2" width="46.0" height="46.0"/>
<rect x="1513.1" y="1428.2" width="46.0" height="46.0"/>
<rect x="1649.2" y="1686.0" width="46.0" height="46.0"/>
<rect x="1761.0" y="1882.0" width="46.0" height="46.0"/>
<rect x="1897.0" y="1972.1" width="46.0" height="46.0"/>
<rect x="2017.1" y="2001.8" width="46.0" height="46.0"/>
<rect x="2144.9" y="2007.0" width="46.0" height="46.0"/>
<rect x="2273.0" y="2007.0" width="46.0" height="46.0"/>
<rect x="2400.8" y="2007.0" width="46.0" height="46.0"/>
<rect x="2528.9" y="2007.0" width="46.0" height="46.0"/>
<rect x="2657.0" y="2007.2" width="46.0" height="46.0"/>
</g><g stroke="#f00">
<circle cx="583.7" cy="2043.9" r="26.0"/>
<circle cx="775.7" cy="2038.7" r="26.0"/>
<circle cx="919.9" cy="2038.7" r="26.0"/>
<circle cx="1031.6" cy="1994.3" r="26.0"/>
<circle cx="1159.7" cy="1856.9" r="26.0"/>
<circle cx="1279.5" cy="1676.9" r="26.0"/>
<circle cx="1415.7" cy="1516.6" r="26.0"/>
<circle cx="1544.3" cy="1423.4" r="26.0"/>
<circle cx="1663.7" cy="1228.6" r="26.0"/>
<circle cx="1791.8" cy="1117.0" r="26.0"/>
<circle cx="1911.2" cy="1049.4" r="26.0"/>
<circle cx="2039.4" cy="1035.5" r="26.0"/>
<circle cx="2167.9" cy="973.3" r="26.0"/>
<circle cx="2288.2" cy="986.9" r="26.0"/>
<circle cx="2417.0" cy="964.6" r="26.0"/>
<circle cx="2552.9" cy="972.7" r="26.0"/>
<circle cx="2761.5" cy="972.7" r="26.0"/>
</g><g stroke="#00f">
<path d="M600.4 650.3 L630.9 703.1 L569.9 703.1Z"/>
<path d="M776.4 666.4 L806.9 719.2 L745.9 719.2Z"/>
<path d="M904.3 636.7 L934.8 689.5 L873.8 689.5Z"/>
<path d="M1048.2 650.8 L1078.7 703.6 L1017.7 703.6Z"/>
<path d="M1152.5 672.9 L1183.0 725.7 L1122.0 725.7Z"/>
<path d="M1288.4 700.2 L1318.9 753.0 L1257.9 753.0Z"/>
<path d="M1416.4 721.9 L1446.9 774.7 L1385.9 774.7Z"/>
<path d="M1544.4 569.0 L1574.9 621.8 L1513.9 621.8Z"/>
<path d="M1672.3 395.0 L1702.8 447.8 L1641.8 447.8Z"/>
<path d="M1784.4 359.8 L1814.9 412.6 L1753.9 412.6Z"/>
<path d="M1912.3 351.7 L1942.8 404.5 L1881.8 404.5Z"/>
<path d="M2032.7 365.0 L2063.2 417.8 L2002.2 417.8Z"/>
<path d="M2184.4 374.0 L2214.9 426.8 L2153.9 426.8Z"/>
<path d="M2297.3 374.0 L2327.8 426.8 L2266.8 426.8Z"/>
<path d="M2553.4 386.5 L2583.9 439.3 L2522.9 439.3Z"/>
<path d="M2681.5 379.0 L2712.0 431.8 L2651.0 431.8Z"/>
</g></g>
<rect x="696.3" y="981.5" width="479.4" height="693.4" fill="#fff" stroke="#000" stroke-width="3"/>
<g stroke-width="9.2" stroke-linecap="round">
<line x1="709.3" y1="1045.6" x2="913.0" y2="1045.6" stroke="#000"/>
<line x1="709.3" y1="1158.9" x2="913.0" y2="1158.9" stroke="#f00"/>
<line x1="709.3" y1="1271.5" x2="913.0" y2="1271.5" stroke="#00f"/>
</g>
<g fill="none" stroke-width="4.0">
<rect x="787.1" y="1360.9" width="46.0" height="46.0" stroke="#000"/>
<circle cx="811.4" cy="1496.6" r="26.0" stroke="#f00"/>
<g stroke="#00f"><path d="M811.4 1576.0 L841.9 1628.8 L780.9 1628.8Z"/></g>
</g>
<g font-family="Liberation Sans, Arial, sans-serif" font-size="91.7" fill="#000">
<text x="939.0" y="1076.9">x(Co)</text>
<text x="939.0" y="1189.8">x(Cr)</text>
<text x="939.0" y="1302.7">x(Ni)</text>
<text x="939.0" y="1415.6">xCo</text>
<text x="939.0" y="1528.5">xCr</text>
<text x="939.0" y="1641.4">xNi</text>
</g>
<g font-family="Liberation Sans, Arial, sans-serif" font-size="91.7" fill="#000">
<text x="1852.5" y="622.5">Co<tspan font-size="63.4" dy="23.7">0.5</tspan><tspan dy="-23.7">Ni</tspan><tspan font-size="63.4" dy="23.7">0.5</tspan><tspan dy="-23.7">/Cr</tspan><tspan font-size="63.4" dy="23.7">0.4</tspan><tspan dy="-23.7">Ni</tspan><tspan font-size="63.4" dy="23.7">0.6</tspan></text>
<text x="1854.0" y="766.7">1300<tspan font-size="63.4" dy="-37.0">o</tspan><tspan dy="37.0">C, 50h</tspan></text>
</g>
<g fill="#2298ca">
<circle cx="352.5" cy="2171.5" r="50.7"/><circle cx="353" cy="2247.5" r="90.8"/><circle cx="282.3" cy="2289.2" r="49.5"/><circle cx="423.2" cy="2289.2" r="49.5"/>
</g>
<text font-family="DejaVu Serif, Liberation Serif, serif" font-weight="bold" font-size="163.0" fill="#fff" stroke="#fff" stroke-width="5" stroke-linejoin="miter" transform="translate(295.1 2323.3) scale(1.000 1.000)">P</text>
</svg></body></html>
